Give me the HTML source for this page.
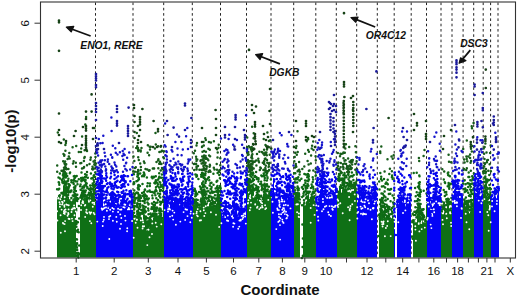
<!DOCTYPE html><html><head><meta charset="utf-8"><style>html,body{margin:0;padding:0;background:#fff;overflow:hidden}svg{display:block}text{font-family:"Liberation Sans",sans-serif}</style></head><body><svg width="520" height="295" viewBox="0 0 520 295">
<path d="M95.5 2.5V257M133 2.5V257M163.7 2.5V257M192.3 2.5V257M220.5 2.5V257M246.5 2.5V257M271 2.5V257M293.7 2.5V257M315.8 2.5V257M336.3 2.5V257M356.7 2.5V257M377.3 2.5V257M394.2 2.5V257M411.2 2.5V257M426.5 2.5V257M441 2.5V257M452 2.5V257M463.1 2.5V257M473.7 2.5V257M483.2 2.5V257M490.6 2.5V257M498 2.5V257" stroke="#222" stroke-width="1" stroke-dasharray="2.6 2.7" fill="none"/>
<path d="M57 199.3H58V257.5H57zM58 199.3H59V257.5H58zM59 199.3H60V257.5H59zM60 199.3H61V257.5H60zM61 199.3H62V257.5H61zM62 195.3H63V257.5H62zM63 185.3H64V257.5H63zM64 179.3H65V257.5H64zM65 186.3H66V257.5H65zM66 192.3H67V257.5H66zM67 198.3H68V257.5H67zM68 197.3H69V257.5H68zM69 199.3H70V257.5H69zM70 199.3H71V257.5H70zM71 199.3H72V257.5H71zM72 199.3H73V257.5H72zM73 198.3H74V257.5H73zM74 197.3H75V257.5H74zM75 197.3H76V257.5H75zM76 254.3H77V257.5H76zM77 256.3H78V257.5H77zM80 200.3H81V257.5H80zM81 197.3H82V257.5H81zM82 199.3H83V257.5H82zM83 198.3H84V257.5H83zM84 197.3H85V257.5H84zM85 197.3H86V257.5H85zM86 197.3H87V257.5H86zM87 202.3H88V257.5H87zM88 202.3H89V257.5H88zM89 199.3H90V257.5H89zM90 200.3H91V257.5H90zM91 202.3H92V257.5H91zM92 197.3H93V257.5H92zM93 192.3H94V257.5H93zM94 195.3H95V257.5H94zM95 204.3H96V257.5H95zM133 213.3H134V257.5H133zM134 215.3H135V257.5H134zM135 220.3H136V257.5H135zM136 220.3H137V257.5H136zM137 215.3H138V257.5H137zM138 206.3H139V257.5H138zM139 218.3H140V257.5H139zM140 218.3H141V257.5H140zM141 218.3H142V257.5H141zM142 220.3H143V257.5H142zM143 214.3H144V257.5H143zM144 214.3H145V257.5H144zM145 219.3H146V257.5H145zM146 230.3H147V257.5H146zM147 226.3H148V257.5H147zM148 224.3H149V257.5H148zM149 227.3H150V257.5H149zM150 220.3H151V257.5H150zM151 220.3H152V257.5H151zM152 220.3H153V257.5H152zM153 217.3H154V257.5H153zM154 212.3H155V257.5H154zM155 212.3H156V257.5H155zM156 214.3H157V257.5H156zM157 215.3H158V257.5H157zM158 215.3H159V257.5H158zM159 214.3H160V257.5H159zM160 212.3H161V257.5H160zM161 216.3H162V257.5H161zM162 219.3H163V257.5H162zM163 205.3H164V257.5H163zM193 204.3H194V257.5H193zM194 204.3H195V257.5H194zM195 203.3H196V257.5H195zM196 200.3H197V257.5H196zM197 205.3H198V257.5H197zM198 206.3H199V257.5H198zM199 206.3H200V257.5H199zM200 206.3H201V257.5H200zM201 202.3H202V257.5H201zM202 196.3H203V257.5H202zM203 195.3H204V257.5H203zM204 197.3H205V257.5H204zM205 200.3H206V257.5H205zM206 205.3H207V257.5H206zM207 206.3H208V257.5H207zM208 206.3H209V257.5H208zM209 203.3H210V257.5H209zM210 202.3H211V257.5H210zM211 205.3H212V257.5H211zM212 205.3H213V257.5H212zM213 204.3H214V257.5H213zM214 207.3H215V257.5H214zM215 207.3H216V257.5H215zM216 203.3H217V257.5H216zM217 198.3H218V257.5H217zM218 201.3H219V257.5H218zM219 204.3H220V257.5H219zM220 208.3H221V257.5H220zM247 191.3H248V257.5H247zM248 193.3H249V257.5H248zM249 192.3H250V257.5H249zM250 196.3H251V257.5H250zM251 192.3H252V257.5H251zM252 186.3H253V257.5H252zM253 191.3H254V257.5H253zM254 196.3H255V257.5H254zM255 196.3H256V257.5H255zM256 196.3H257V257.5H256zM257 200.3H258V257.5H257zM258 196.3H259V257.5H258zM259 201.3H260V257.5H259zM260 204.3H261V257.5H260zM261 200.3H262V257.5H261zM262 202.3H263V257.5H262zM263 193.3H264V257.5H263zM264 190.3H265V257.5H264zM265 192.3H266V257.5H265zM266 193.3H267V257.5H266zM267 194.3H268V257.5H267zM268 194.3H269V257.5H268zM269 197.3H270V257.5H269zM270 197.3H271V257.5H270zM294 204.3H295V257.5H294zM295 202.3H296V257.5H295zM296 202.3H297V257.5H296zM297 199.3H298V257.5H297zM298 200.3H299V257.5H298zM299 204.3H300V257.5H299zM303 203.3H304V257.5H303zM304 205.3H305V257.5H304zM305 205.3H306V257.5H305zM306 201.3H307V257.5H306zM307 195.3H308V257.5H307zM308 194.3H309V257.5H308zM309 202.3H310V257.5H309zM310 205.3H311V257.5H310zM311 203.3H312V257.5H311zM312 201.3H313V257.5H312zM313 202.3H314V257.5H313zM314 205.3H315V257.5H314zM315 208.3H316V257.5H315zM337 194.3H338V257.5H337zM338 192.3H339V257.5H338zM339 187.3H340V257.5H339zM340 187.3H341V257.5H340zM341 194.3H342V257.5H341zM342 189.3H343V257.5H342zM343 186.3H344V257.5H343zM344 188.3H345V257.5H344zM345 192.3H346V257.5H345zM346 192.3H347V257.5H346zM347 187.3H348V257.5H347zM348 184.3H349V257.5H348zM349 187.3H350V257.5H349zM350 192.3H351V257.5H350zM351 191.3H352V257.5H351zM352 190.3H353V257.5H352zM353 189.3H354V257.5H353zM354 188.3H355V257.5H354zM355 188.3H356V257.5H355zM356 192.3H357V257.5H356zM379 219.3H380V257.5H379zM380 212.3H381V257.5H380zM381 205.3H382V257.5H381zM382 211.3H383V257.5H382zM383 218.3H384V257.5H383zM384 216.3H385V257.5H384zM385 217.3H386V257.5H385zM386 217.3H387V257.5H386zM387 215.3H388V257.5H387zM388 217.3H389V257.5H388zM389 219.3H390V257.5H389zM390 219.3H391V257.5H390zM391 218.3H392V257.5H391zM392 215.3H393V257.5H392zM393 217.3H394V257.5H393zM413 222.3H414V257.5H413zM414 222.3H415V257.5H414zM415 222.3H416V257.5H415zM416 222.3H417V257.5H416zM417 213.3H418V257.5H417zM418 208.3H419V257.5H418zM419 209.3H420V257.5H419zM420 215.3H421V257.5H420zM421 222.3H422V257.5H421zM422 221.3H423V257.5H422zM423 222.3H424V257.5H423zM424 222.3H425V257.5H424zM425 222.3H426V257.5H425zM426 202.3H427V257.5H426zM441 213.3H442V257.5H441zM442 214.3H443V257.5H442zM443 214.3H444V257.5H443zM444 212.3H445V257.5H444zM445 214.3H446V257.5H445zM446 211.3H447V257.5H446zM447 205.3H448V257.5H447zM448 204.3H449V257.5H448zM449 208.3H450V257.5H449zM450 213.3H451V257.5H450zM451 214.3H452V257.5H451zM463 208.3H464V257.5H463zM464 210.3H465V257.5H464zM465 209.3H466V257.5H465zM466 210.3H467V257.5H466zM467 210.3H468V257.5H467zM468 211.3H469V257.5H468zM469 213.3H470V257.5H469zM470 211.3H471V257.5H470zM471 206.3H472V257.5H471zM472 207.3H473V257.5H472zM473 192.3H474V257.5H473zM483 194.3H484V257.5H483zM484 198.3H485V257.5H484zM485 193.3H486V257.5H485zM486 195.3H487V257.5H486zM487 200.3H488V257.5H487zM488 204.3H489V257.5H488zM489 203.3H490V257.5H489zM490 204.3H491V257.5H490z" fill="#0f7016"/>
<path d="M57.1 189.3h0m1.4 -11.8h0m-0.1 12h0m0 8.5h0m0.3 -15.8h0m0.3 0.6h0m0.3 2h0m-0.1 3.9h0m0.1 7.2h0m-0.2 0.2h0m0.3 0.5h0m0.5 -23.1h0m0.1 5.1h0m-0.2 16.6h0m-0.2 3.2h0m1.8 -5.3h0m0.7 -13.4h0m0.2 0.2h0m-0.3 0.7h0m0.4 1.9h0m-0.3 10.9h0m-0.3 5.5h0m1.3 -24.7h0m-0.2 1.1h0m0.5 3.1h0m0 4.8h0m-0.7 9.5h0m0.2 1.1h0m1.2 -20.6h0m-0.3 0h0m-0.3 3.9h0m0.3 4.7h0m0 0.2h0m0.1 0.9h0m0.9 -10.8h0m0.2 0.8h0m0.2 2.2h0m-0.5 0.9h0m0.2 0.2h0m0 0.2h0m-0.3 0.7h0m0.5 5.7h0m1.2 -9.2h0m0.2 2.3h0m-0.7 1.2h0m0 0.3h0m0.3 4h0m-0.1 2.1h0m-0.1 0.5h0m-0.3 0.7h0m0.1 0.2h0m0 0.2h0m0.5 3h0m1 -12h0m-0.1 5.3h0m-0.5 5.3h0m0.3 3.4h0m0.2 0.1h0m0.1 1.2h0m-0.6 0.3h0m0.8 3.5h0m1 -16.4h0m-0.3 2h0m0.3 3.2h0m-0.6 4.7h0m0.5 1h0m-0.6 2.6h0m0.4 0.3h0m0.1 2.4h0m-0.5 2.6h0m1.2 -13.4h0m0.1 0.3h0m-0.4 0h0m0.5 2.1h0m-0.3 1.1h0m0 3.8h0m-0.3 0.9h0m1.6 -19.9h0m-0.3 0.7h0m0 12h0m0.7 6.8h0m0.8 -11.8h0m0.1 2.1h0m0 8.3h0m-0.6 0.1h0m0.4 0.2h0m0.2 7.1h0m2.1 -17.8h0m-0.3 2.6h0m-0.4 12.6h0m1 -19.1h0m0.2 3.1h0m-0.3 4.7h0m0.3 3.3h0m0.3 2.4h0m-0.5 2.4h0m-0.1 3.2h0m0.1 0h0m0.3 0.2h0m0.2 0.5h0m-0.5 0.1h0m0.7 -20.3h0m0.8 1h0m-0.5 1.1h0m-0.1 0h0m0.7 3.3h0m-0.2 6.5h0m-0.6 0.9h0m0 0.3h0m0.3 5h0m0.4 0h0m0.1 0.5h0m0 0h0m0.1 -8.6h0m0.4 5h0m-0.2 5.8h0m0.4 3.1h0m0.1 9.3h0m0 1.5h0m0 10.5h0m-0.1 2.2h0m0.3 0.8h0m0 2.7h0m-0.4 17.3h0m0.1 1.9h0m0.2 3.9h0m0.4 -73.9h0m0.4 5.5h0m0.4 2.7h0m-0.2 10.5h0m0 3.2h0m-0.1 3.2h0m-0.1 29.3h0m0.2 1.4h0m-0.7 7.4h0m0.4 0.3h0m0.1 3.8h0m-0.3 1.3h0m0.1 2.7h0m0.2 2.1h0m0.1 0.6h0m-0.3 2.9h0m0.4 2.5h0m0.9 -56.6h0m-0.3 23.4h0m0.1 7.6h0m0.3 23.3h0m0.1 0.3h0m-0.5 1.2h0m0.6 1.5h0m-0.1 1.3h0m0.4 -78.2h0m0.1 26.7h0m0.3 12.5h0m-0.5 13.8h0m0.4 13.3h0m0.4 8.5h0m0.6 -67.7h0m0.3 11.2h0m0.7 -19.4h0m0.1 2h0m0.2 1.2h0m-0.8 3.3h0m0 5.2h0m0.5 5.7h0m0.4 1h0m-0.5 0.1h0m0.1 0.2h0m0.4 -24.3h0m0.7 7.9h0m0.1 7.9h0m-0.2 4.3h0m-0.2 1.6h0m-0.3 0.2h0m0.3 1.2h0m0.3 0h0m-0.1 0.3h0m-0.1 2.7h0m0.7 -20.9h0m0.5 0.8h0m-0.6 8.2h0m0.1 4.4h0m0.7 1.5h0m0.1 0.9h0m-0.3 1.7h0m0.2 1.2h0m-0.8 0h0m0.6 0.2h0m-0.6 0.6h0m1.2 -17.7h0m0 0.4h0m0.6 5.5h0m-0.3 2.2h0m-0.2 2.9h0m1.2 -16.2h0m-0.1 2.7h0m0.1 4.3h0m0.1 11h0m-0.1 2.7h0m0 0.3h0m0 1.3h0m0.8 -19.9h0m-0.2 0.6h0m-0.1 2.8h0m0.5 2.7h0m-0.2 1.1h0m0.1 0.2h0m0 1.5h0m-0.2 4.9h0m0.2 5h0m0.6 -20.6h0m0.1 8.7h0m0.6 3.4h0m0 1.1h0m-0.1 7.4h0m0 2.2h0m0 2.1h0m0.6 -22.1h0m0.7 16.7h0m-0.4 7.5h0m-0.4 0h0m1.1 -12.9h0m0.1 3.7h0m0 5.1h0m-0.1 0.1h0m1.4 -12.4h0m-0.3 4.6h0m-0.1 3.1h0m0.1 2.4h0m-0.2 2.9h0m1.2 -24.9h0m0.4 5h0m-0.6 9.5h0m0.4 1h0m0 2.6h0m0.1 1.5h0m-0.3 0.1h0m0.4 8.2h0m0.4 -6.4h0m0.7 0.7h0m-0.6 1.3h0m0.1 0.9h0m-0.4 1.4h0m0.3 1.3h0m0.8 -22.6h0m0.1 5.3h0m-0.2 2h0m1 0.8h0m-0.2 2h0m-0.6 1.2h0m0 4.9h0m0.2 2.2h0m1.2 -21.2h0m-0.4 0.5h0m0.6 0.8h0m-0.6 3.5h0m0.5 1.7h0m-0.4 2.7h0m0.7 2.1h0m-0.1 3.5h0m-0.6 1.7h0m0.5 0.5h0m0.9 -19.8h0m0.1 0h0m-0.2 4.5h0m-0.2 7.8h0m0 1.3h0m-0.3 1h0m0.6 5.4h0m-0.3 1.6h0m0.5 8.9h0m0.5 -17.9h0m-0.1 9.1h0m0.1 8.2h0m37.5 -4.9h0m0 4h0m-0.1 5.8h0m0.6 -33.1h0m0 8h0m0.3 1.4h0m-0.3 0.5h0m0.4 6.4h0m-0.7 2.8h0m0 0h0m0.2 3.1h0m0.2 3.8h0m0 2.5h0m-0.2 3.3h0m0.4 0.5h0m0 1.4h0m0 1.6h0m-0.1 3.3h0m0.7 -18h0m-0.2 2.4h0m0.3 0.8h0m0.3 1.4h0m-0.6 1.9h0m0.1 1.6h0m0.4 3.4h0m0 9.6h0m1.3 -34.6h0m-0.2 11.7h0m-0.1 23.7h0m-0.3 3h0m1.5 -43.1h0m-0.2 4.5h0m-0.2 11.4h0m-0.1 5.4h0m0.4 5.4h0m0 1.3h0m-0.1 1.4h0m0.2 1.2h0m0.2 3.6h0m-0.4 1h0m0.2 1.9h0m0 0.8h0m-0.4 3.5h0m0.7 -43.8h0m0.4 1.5h0m0.1 4.5h0m0.1 5h0m0.1 1.1h0m-0.4 1.6h0m-0.1 0h0m0.4 1.3h0m-0.4 3.6h0m0.1 0.2h0m0.5 7.1h0m-0.2 0.7h0m-0.1 2.9h0m-0.1 0.3h0m-0.5 1.2h0m1.2 -31.8h0m0 4.5h0m0.2 1.4h0m-0.3 5.6h0m0.2 1.8h0m-0.3 1.9h0m0.4 0.8h0m-0.3 5.1h0m0.2 1.3h0m0.6 0.9h0m-0.9 0.2h0m0 0.6h0m0.4 0.5h0m0.4 11h0m-0.3 4.5h0m0.1 0.7h0m-0.1 1.4h0m0.2 0.1h0m1 -42.3h0m-0.3 12.6h0m0.5 9.5h0m-0.7 0h0m0.8 0.4h0m-1 0.8h0m0.1 2.2h0m0.7 2.2h0m0.2 0h0m-0.4 2.9h0m-0.1 1.7h0m0.2 1.2h0m-0.7 5.8h0m1 1.1h0m-0.3 0.7h0m-0.7 0.8h0m0.1 0.6h0m0 0.2h0m0 1.1h0m1.3 -19.1h0m0.5 11.9h0m0 3h0m-0.8 1h0m0 3.9h0m1.4 -41.6h0m0.5 7.7h0m-0.4 9.1h0m0.2 17h0m0 2.5h0m0.9 -37.3h0m-0.3 20.6h0m0.1 5h0m-0.5 4.6h0m1 0.4h0m-0.2 1.9h0m0.1 4h0m-0.4 1.5h0m-0.2 0.5h0m1 -41.4h0m0.4 1.1h0m-0.2 2.8h0m-0.1 15.8h0m-0.2 2.8h0m0.1 0.5h0m0.5 2.5h0m0.1 2.6h0m-0.1 7.9h0m-0.4 0.6h0m-0.1 0.5h0m0.4 0.4h0m-0.6 0.6h0m0.9 -35.5h0m0.5 14.5h0m-0.3 0.4h0m0 0.2h0m0.1 0.2h0m0 3.9h0m0.6 1.5h0m-0.2 2.9h0m-0.2 0.2h0m0.4 0.9h0m-0.8 1.2h0m0.1 2.1h0m0.2 7.7h0m0.4 0h0m-0.3 1.9h0m0.5 4.2h0m-0.1 2.1h0m0.5 -23.4h0m-0.2 11.5h0m0.1 4.7h0m0 4.7h0m-0.1 0.9h0m0.4 4h0m0.4 0.2h0m0 1.9h0m-0.3 3.3h0m0.3 1.2h0m-0.3 0.4h0m0.7 -50.8h0m0.3 8.7h0m0.1 5.2h0m-0.5 4.9h0m0.2 2.1h0m0.4 4.2h0m-0.1 15.5h0m-0.7 0.4h0m0.6 3.2h0m0.1 2.4h0m0 0.9h0m-0.2 1h0m-0.5 1.2h0m0.2 1.2h0m0.9 -45.2h0m0.1 16.3h0m0.6 5h0m-0.3 4h0m0.1 0.3h0m0.2 1.8h0m0.1 3.6h0m-0.3 7h0m-0.6 0.6h0m0.2 2.3h0m0 0.8h0m0 0.6h0m1.5 -34.3h0m-0.5 7.3h0m-0.2 5.4h0m0.5 14.3h0m-0.3 0.4h0m1.2 -35.1h0m-0.2 2.4h0m-0.2 4.7h0m0.8 1.1h0m-0.1 25.4h0m-0.2 1.1h0m-0.1 0.2h0m0 1.4h0m-0.5 2.6h0m0.2 0.2h0m-0.1 0.2h0m0.3 1.8h0m-0.3 1.1h0m0.3 0.9h0m1.5 -17.5h0m-0.8 4.3h0m0.1 0.8h0m0.8 2.2h0m-0.8 3.5h0m1.2 -43.1h0m-0.2 0.5h0m0.8 1h0m-0.3 13.8h0m0.1 3.4h0m-0.4 8h0m-0.1 3.8h0m0.5 7.4h0m0.3 -16.4h0m0.7 6.5h0m-0.4 3.5h0m0.5 0.8h0m-0.2 4.4h0m0 1.5h0m-0.1 0.2h0m-0.1 0.3h0m-0.1 0.4h0m0.1 0h0m0.9 -39.2h0m0.1 0.5h0m0.4 5.9h0m-0.8 9.4h0m0.4 9.6h0m-0.1 4h0m-0.2 1.7h0m0.3 2.1h0m0.4 0.5h0m-0.3 0.6h0m-0.5 2.8h0m1.6 -30.2h0m-0.5 8h0m-0.1 1.5h0m0 0.1h0m0.8 2h0m-0.5 9.9h0m-0.1 2.1h0m0.4 1.3h0m0.6 -32.2h0m0 3.9h0m-0.2 1.3h0m0.4 5.8h0m-0.2 2.4h0m0.5 8.6h0m-0.7 4.6h0m0.4 6h0m0.2 2.1h0m0.6 -28.4h0m-0.3 8.5h0m0.9 11.5h0m-0.5 4.8h0m0 1.1h0m-0.3 5.5h0m1.3 -34.3h0m0 4.6h0m-0.3 1.7h0m0.3 7.6h0m0.1 6.5h0m1.2 -26.8h0m0.1 3.5h0m-0.2 0.9h0m-0.4 0.7h0m0.4 9h0m0.2 8.5h0m0.1 12.6h0m-0.1 1.2h0m-0.6 0.8h0m0.6 2.7h0m0.2 -31.1h0m0.7 0.4h0m-0.2 7.4h0m0.1 1.3h0m0 2.7h0m0.2 3.5h0m-0.3 4.4h0m0.5 2.7h0m-0.2 0.2h0m0.2 4.1h0m-0.2 1.9h0m-0.3 0.3h0m0 2.6h0m1.1 -35.9h0m-0.5 7.1h0m0.3 0.5h0m0.3 0.3h0m0.1 0.1h0m-0.6 1.2h0m0.6 3.4h0m-0.5 0.2h0m0.2 12.7h0m-0.3 6.4h0m0 0h0m0.5 4.4h0m-0.2 1.5h0m0.1 0.1h0m0.8 -41.1h0m0.2 27.3h0m-0.4 9.5h0m0.8 7.1h0m0.8 -40.6h0m-0.2 2.3h0m0.3 1h0m-0.1 3.4h0m0.1 2.5h0m-0.3 1h0m-0.1 2.9h0m0.3 5.9h0m-0.1 2.8h0m0.2 1h0m-0.9 17.5h0m1.5 -26.1h0m-0.1 8h0m0.1 1.9h0m-0.1 0.6h0m29.6 -12.6h0m-0.2 9.1h0m-0.1 4.6h0m0.4 -12.9h0m0.7 9.6h0m-0.8 1.6h0m0.9 0.4h0m0.1 1.1h0m0.9 -28.8h0m-0.7 14.1h0m0.2 0.6h0m0.5 4.7h0m-0.2 2.2h0m0 0.1h0m-0.4 4.7h0m0.2 1.4h0m0.3 0h0m-0.3 0.7h0m1.4 -26.3h0m-0.7 14.5h0m0 0.4h0m0 1.6h0m0.7 0.8h0m-0.5 1h0m0 0.6h0m0.3 3.8h0m-0.6 0.2h0m1.1 -24.7h0m0.3 1h0m-0.2 17.5h0m0.5 0.8h0m0.2 8.9h0m-0.3 1.7h0m1.2 -25.9h0m-0.7 20.9h0m0.7 4.9h0m0.7 -12.9h0m0.1 12.9h0m0.8 -18.4h0m-0.3 19.1h0m1.4 -30.8h0m0.1 2h0m0.1 11.6h0m-0.5 0.8h0m0.6 2.7h0m0 1.3h0m-0.1 5.3h0m0.1 0.4h0m-0.6 1.2h0m0.6 1.4h0m-0.7 0.2h0m-0.1 2.6h0m1.5 -31.4h0m0 0.2h0m0 1.1h0m0 2.5h0m0.2 6.3h0m-0.1 0.6h0m0 0.8h0m-0.3 5.9h0m0.5 0.9h0m-0.1 0.3h0m-0.8 0.2h0m0.7 2.4h0m-0.7 7.9h0m1.4 -28.7h0m0.3 1.1h0m-0.1 0.8h0m0.3 1.2h0m0 0.9h0m-0.1 4.4h0m-0.2 4.1h0m0.1 0.6h0m0 0.7h0m-0.5 0.1h0m0.6 4.5h0m-0.4 1.8h0m-0.4 1.5h0m0.1 0.4h0m0.3 0.3h0m-0.1 0.2h0m-0.1 0.1h0m1.7 -20.9h0m-0.7 3h0m0 6.8h0m-0.2 0.8h0m0.7 0.4h0m0.3 0.5h0m-0.2 3.1h0m-0.5 0.1h0m0.5 0.2h0m-0.4 2.1h0m-0.1 0.1h0m-0.1 0.4h0m0.3 1h0m0 1h0m-0.1 0.3h0m1.3 -21.4h0m-0.4 1.2h0m0.4 0.6h0m-0.2 3.2h0m0.1 0.9h0m0.4 3.8h0m-0.3 3.5h0m-0.3 4.6h0m0.4 3.4h0m-0.4 0h0m0.4 0.5h0m0.1 2h0m-0.4 0.8h0m0.5 -24.5h0m0.8 6.3h0m-0.4 1.2h0m-0.3 10.9h0m0.8 2.5h0m-0.2 3.8h0m-0.2 0.1h0m0.2 0.6h0m-0.1 5.3h0m0.8 -24.6h0m0.2 8.8h0m-0.1 3.2h0m-0.3 12h0m1.6 -25.7h0m0.2 13.4h0m-0.6 6.7h0m-0.1 0.2h0m-0.2 3.2h0m1.3 -24h0m0.4 2.9h0m-0.8 10.8h0m0.3 5h0m0.4 0.1h0m-0.5 1.6h0m0.1 2.3h0m1.6 -16.7h0m-0.7 2.3h0m0.5 7.5h0m-0.4 7.8h0m1.5 -12.1h0m-0.7 0.3h0m-0.1 4.1h0m0.2 3.2h0m0.5 6.6h0m0.3 -20.2h0m0.1 4.1h0m0.2 4.4h0m-0.2 1h0m0.8 5.3h0m-0.6 0.7h0m0.1 0.6h0m0.3 1.2h0m0 0.1h0m0.1 3h0m-0.3 1.2h0m1.4 -30.7h0m0.1 11h0m-0.7 8h0m0.5 4.7h0m-0.3 4h0m-0.3 1h0m0.5 1.2h0m1 -11.7h0m-0.3 0.2h0m1.1 3.1h0m0 3.4h0m0.1 3.5h0m-0.2 1.1h0m0 2.9h0m0.5 0.4h0m-0.3 0.2h0m0.5 -18.1h0m0.5 3h0m0.4 8.8h0m0.8 -19.6h0m-0.5 0.4h0m-0.2 0.5h0m0.5 5.3h0m-0.4 4.1h0m0.5 1h0m0.3 5h0m-0.6 1.3h0m0.7 -25.3h0m-0.1 12.9h0m1 2.1h0m-0.8 1h0m0.2 1h0m0 0.3h0m0.4 0.1h0m-0.5 1.2h0m-0.1 1h0m0.2 0.4h0m-0.1 1.4h0m-0.3 0.5h0m0.8 6h0m0.5 -28.9h0m0.5 3h0m0.1 16.2h0m0 3.8h0m-0.2 2h0m0.1 1.2h0m-0.3 1.3h0m-0.1 1.3h0m0.4 0.3h0m-0.2 1.2h0m0 1.6h0m0.8 -25.8h0m0.2 7.7h0m0.1 1.2h0m0.1 4.6h0m0.1 0.4h0m-0.5 6h0m0.3 5.1h0m0.1 4.1h0m0.4 -19h0m-0.2 2.1h0m0.4 11h0m0 2.4h0m-0.1 2.3h0m26.4 -27.9h0m-0.2 2.9h0m0.4 0h0m-0.2 1.2h0m0 7h0m-0.1 1.5h0m0.4 -15.8h0m0.1 5.8h0m0 0.9h0m0.1 0.2h0m0.2 2.6h0m-0.4 0.6h0m0.4 0.3h0m-0.1 0.3h0m0 1.3h0m0.4 1.6h0m-0.6 0.1h0m0.1 2.1h0m1.5 -11.7h0m-0.5 0.8h0m0.3 0.5h0m0.3 2.4h0m-0.3 0.6h0m-0.5 0.6h0m0.9 1.6h0m-0.6 2.2h0m0.4 2.1h0m1 -15.5h0m0.1 1.3h0m-0.2 3.7h0m-0.6 0.8h0m0.5 2.4h0m-0.3 3.3h0m-0.1 1.6h0m0.8 0.5h0m-0.7 2.4h0m1.4 -17.7h0m0.4 4.3h0m-0.2 4.4h0m-0.3 0.9h0m0.4 3.3h0m-0.2 6h0m-0.3 1.7h0m1.5 -19.8h0m-0.9 0.6h0m0.3 7.4h0m0.6 4h0m-0.6 0.2h0m0 0.8h0m-0.3 3.3h0m1.3 -17.2h0m0.5 0.9h0m-0.6 1.5h0m0.4 3.7h0m0 0.2h0m-0.2 1.3h0m-0.2 1.1h0m0.3 5.9h0m0.3 1.5h0m-0.2 1.3h0m0.2 0.2h0m0.6 -10.3h0m-0.2 4.3h0m-0.1 5.7h0m0.1 0.7h0m1.4 -14.7h0m-0.5 0.8h0m0.1 13.3h0m1.8 -12.8h0m-0.6 8.4h0m-0.1 2.6h0m0.3 6.8h0m0.6 -15.9h0m0.5 7.6h0m-0.4 1.6h0m-0.1 1.5h0m0.2 2.8h0m0.3 3.4h0m0.1 1.9h0m-0.2 0.5h0m1.4 -20.2h0m0 9h0m-0.4 1.1h0m0 2.5h0m0.1 3.7h0m0.3 -15.2h0m0 2.3h0m0.3 9.2h0m0 0.7h0m0.4 4.9h0m-0.2 1.3h0m0.2 2.8h0m1 -16.6h0m-0.5 11.8h0m0.1 3.7h0m0.5 0.5h0m-0.7 0h0m1.7 -24.4h0m-0.2 6.2h0m0.2 2.2h0m-0.1 11.9h0m-0.5 0.6h0m0.3 0.2h0m-0.3 4.2h0m0.1 1.6h0m0.2 0.9h0m1 -27.1h0m-0.3 10h0m0.4 2.1h0m-0.5 1.7h0m1.9 -13.9h0m-0.3 9.1h0m0 3.7h0m-0.3 8.8h0m0 0.5h0m0.1 0.8h0m-0.2 2.8h0m0.9 -28.3h0m0.5 11.6h0m-0.2 0.5h0m0.2 3.8h0m-0.4 2.3h0m1.7 -19.5h0m-0.9 3.4h0m0.2 2.3h0m0 0.1h0m-0.2 2.3h0m0 3.5h0m0.3 1.2h0m0.6 1.1h0m-1 0.5h0m0.6 1.4h0m-0.5 1h0m0.7 1.8h0m1 -5.6h0m-0.4 6.1h0m-0.1 0.2h0m1.3 -18.4h0m-0.6 1.7h0m0.1 0.5h0m0.3 5.2h0m0.1 3.8h0m0.3 2h0m-0.6 3.7h0m0.6 0.4h0m-0.5 0.6h0m0.1 0.3h0m0.6 -14.1h0m0 1h0m0.2 11.3h0m1.2 -2.7h0m0.3 4.9h0m0.1 1.7h0m0.1 2.9h0m0.1 -3.6h0m0.6 1.2h0m-0.1 0.9h0m-0.5 0.1h0m0.9 1.1h0m-0.6 0.5h0m1.1 -17.1h0m-0.2 11h0m-0.2 1.4h0m0.4 4.5h0m23.2 -23.1h0m0.2 20.4h0m-0.3 6.1h0m0.5 1h0m-0.5 0.8h0m0.4 0.3h0m-0.1 0h0m1 -28.5h0m0.1 5.5h0m-0.1 0.1h0m-0.1 0.6h0m-0.5 2.6h0m0.5 0.5h0m-0.5 5h0m0.3 2.6h0m0 2.5h0m-0.2 1h0m0.7 0.1h0m-0.5 3.7h0m-0.2 0.6h0m-0.1 0.1h0m0.8 1.2h0m-0.5 0.2h0m0.4 0.6h0m0.1 0.8h0m-0.5 2.5h0m1.3 -25.2h0m-0.1 1h0m-0.6 15h0m0.2 1.2h0m0.1 2.6h0m-0.3 0.4h0m0.1 2.2h0m0.6 1h0m0.1 0.2h0m0.4 -22.7h0m0.4 3.2h0m0.1 6.2h0m-0.7 4.6h0m0.5 3.3h0m-0.4 1.8h0m0.2 2.6h0m1.4 -23.7h0m-0.8 1.9h0m0.1 7.5h0m0.3 3.9h0m-0.4 2.8h0m0.2 1.2h0m0.3 1.7h0m-0.2 1.1h0m0.6 1.8h0m0.3 -10.5h0m0 1.5h0m0.2 3.2h0m0.2 1.2h0m0.2 2h0m-0.7 1.5h0m0.4 5.2h0m0 0.3h0m0.6 -28.9h0m-0.1 5.9h0m0.3 0.1h0m0 18.9h0m-0.1 3h0m-0.1 1h0m1.8 -24.8h0m0.9 8.3h0m-0.4 0.5h0m0.3 9.6h0m-0.1 8.2h0m0.3 19.3h0m-0.5 33.3h0m1.2 -68.8h0m0.4 4.3h0m0 2.4h0m-0.6 42.7h0m-0.3 8.5h0m0.3 8.7h0m1.5 -81.6h0m-0.5 11h0m0.1 6.9h0m0.1 0.1h0m-0.1 8.2h0m0.3 2.4h0m0.1 0.8h0m0.7 -22.9h0m0.3 2.3h0m0.5 -8.5h0m0 11.6h0m0.2 0.1h0m-0.6 0.8h0m0.4 1.9h0m-0.2 2.2h0m0.2 3.5h0m0.2 3.7h0m-0.1 0.3h0m1.2 -23.8h0m0 2.6h0m-0.1 3.5h0m0.4 5.1h0m-0.3 1.2h0m-0.5 0.8h0m0.6 0.1h0m0.1 3.8h0m-0.7 1h0m0.7 0.3h0m-0.6 4h0m0.1 0.3h0m1.1 -23.4h0m0.4 3.6h0m-0.6 3h0m0.4 0.6h0m-0.5 3h0m0.7 1.6h0m-0.2 5.9h0m0.4 -16.8h0m0.2 1.4h0m0.2 3.1h0m-0.4 0.9h0m0 12.9h0m1.2 -1.5h0m0 8.4h0m0 0.9h0m0.3 3.5h0m0.8 -16.4h0m0 9.7h0m0.1 0.6h0m-0.5 1.3h0m0.1 0.3h0m0.7 1.4h0m0.1 0.9h0m-0.2 0.3h0m0 0.1h0m0.4 -18.2h0m0.5 2.2h0m-0.5 7.9h0m0.4 1.9h0m0.5 1.8h0m-0.1 2.2h0m-0.5 2h0m0.8 -25.3h0m0.5 2.3h0m-0.5 2.6h0m0.1 4.6h0m0.3 0.1h0m0.3 1.9h0m-0.1 2.7h0m-0.7 0.8h0m0.9 0.7h0m-0.6 0.7h0m0 6.1h0m-0.1 0.9h0m0.6 1.3h0m0.5 -8.9h0m0.6 3.2h0m-0.3 0.3h0m0.1 0.5h0m-0.5 0.7h0m0.1 0.7h0m-0.4 2.5h0m1.3 -9.3h0m0.3 10.5h0m-0.6 1.2h0m0.2 0.6h0m1.2 -28.4h0m-0.3 0.3h0m0.1 14.5h0m0.2 17.2h0m21.2 -16.8h0m0.7 -11.9h0m0.4 1.5h0m-0.4 12h0m1.2 -18.4h0m-0.5 2.6h0m0.8 2h0m-0.7 0.9h0m0.7 1.5h0m-0.4 11.1h0m0.8 -16.5h0m-0.2 2.6h0m0.5 8.8h0m1.1 -14.6h0m-0.3 1h0m0.3 6h0m-0.3 0.3h0m0.3 0.2h0m-0.3 5.5h0m0.2 2.5h0m0.8 -15.1h0m0.3 5.9h0m-0.4 6.9h0m0.1 8.2h0m1.5 -18.4h0m-0.6 4.5h0m0 2.2h0m-0.2 0.9h0m0.3 2.4h0m-0.1 2.7h0m1.8 -15h0m-0.3 2.4h0m0.3 2.5h0m-0.5 1.2h0m0.3 0.1h0m-0.5 1h0m0.4 0.6h0m-0.7 0.4h0m0.1 0.3h0m0.7 2.3h0m-0.8 0.2h0m0.7 1h0m-0.3 0.4h0m0.6 -11.8h0m0.5 8.8h0m-0.5 4.1h0m0.7 5.5h0m0.7 -16.2h0m0.6 1.4h0m-0.5 9.2h0m-0.2 0.7h0m0 2.2h0m0 1.7h0m1.2 -7.9h0m0.3 2.5h0m-0.3 6.3h0m1.4 -18.1h0m-0.3 0.7h0m0.4 0.4h0m0 4.4h0m-0.8 4.1h0m0.1 1.1h0m0.9 -12.5h0m0.8 5.2h0m-0.1 3.8h0m0 5h0m0.1 -4.2h0m1 2h0m-0.9 0h0m0.6 0.8h0m0 4.8h0m1 -13.3h0m0.1 5.6h0m-0.8 1.5h0m0.9 0.1h0m-0.2 0.8h0m-0.4 0.2h0m0.5 0.5h0m-0.5 0.7h0m0.5 1.2h0m-0.2 0.3h0m0 2.3h0m-0.2 1.7h0m1 -18.6h0m0.5 4.1h0m-0.1 10.1h0m-0.1 2.6h0m-0.3 1.5h0m1.5 -10.8h0m-0.7 5.4h0m0.7 3.5h0m-0.5 0.9h0m0.8 -14.7h0m0.5 8h0m0.3 1.1h0m-0.5 2h0m-0.3 0.5h0m0.5 0.1h0m1.2 -3.1h0m-0.8 0.4h0m0.4 1.7h0m-0.2 1.5h0m0.4 0.5h0m0.5 -5.2h0m-0.1 2.4h0m0.5 6.7h0m0.4 -19.5h0m0.2 1.7h0m0.2 0.8h0m-0.1 5.9h0m21.5 55.4h0m0.9 -54.4h0m-0.1 33.6h0m1.2 -42.2h0m-0.8 16.6h0m0.6 10.3h0m0 4.5h0m0.3 4.5h0m0 1.3h0m-0.7 4h0m-0.2 2.9h0m0.2 1.9h0m1.5 -42.2h0m-0.2 2.4h0m0.3 21.8h0m-0.3 1.3h0m0.1 0.4h0m-0.1 3.8h0m-0.1 5.3h0m1.1 -31.3h0m-0.1 6h0m-0.4 7.1h0m0.5 4.6h0m-0.3 1.1h0m0.5 6.3h0m-0.2 4.8h0m0.8 -16.5h0m0.2 4.4h0m-0.4 2.4h0m0.1 1.5h0m0.2 0.2h0m0 0.2h0m-0.1 0.2h0m-0.1 3.2h0m-0.2 1.3h0m0.5 7.5h0m0.2 1.1h0m0.8 -36.7h0m-0.5 7.2h0m0.3 9.1h0m0.4 0.9h0m0.3 0h0m0 7.8h0m-0.6 2h0m-0.3 5.8h0m0.4 0.1h0m0.4 1.7h0m-0.4 2.3h0m-0.2 1.4h0m1.3 -29.9h0m-0.5 4.1h0m0.9 5.7h0m-0.3 3.2h0m-0.7 6.5h0m0.4 1h0m0.3 2.6h0m-0.3 0h0m0.5 0.9h0m0 3.1h0m0 0.1h0m-0.8 0.2h0m1.7 -32.5h0m-0.8 1.3h0m0.2 16.7h0m0.3 9.5h0m-0.2 1.9h0m-0.3 0.3h0m1.6 -28.5h0m-0.5 21.2h0m0.6 1.2h0m-0.4 0.2h0m0.1 0.3h0m0.6 0.2h0m-0.8 5h0m0.1 4.3h0m-0.1 0.9h0m1 -37.2h0m0.1 4.5h0m0.1 5.1h0m-0.2 9.8h0m0.2 10h0m-0.1 0.5h0m0.5 1.6h0m-0.1 5.7h0m1.1 -42.9h0m0.1 15.8h0m-0.6 4.2h0m-0.2 12.7h0m0 7.1h0m0.4 1h0m0.1 0.5h0m-0.2 1h0m0.5 2.5h0m1 -29.2h0m-0.2 4.2h0m-0.7 13.3h0m0 1.8h0m0.5 9.5h0m1.1 -29.4h0m-0.5 12.3h0m0.5 8.2h0m0 4.4h0m1 -38.3h0m-0.2 1.7h0m0.2 30.6h0m0 3.6h0m-0.3 2.4h0m0.7 -36.3h0m0.2 1.3h0m-0.1 16.6h0m0.5 7.1h0m0.4 1.2h0m-0.9 9.2h0m0 0.3h0m1.4 -15.4h0m-0.1 5.2h0m-0.4 3.3h0m0.3 10.3h0m18.5 5.6h0m-0.2 14.1h0m0.6 -22.7h0m0.5 6.6h0m0 1.1h0m-0.1 0.2h0m0.2 0h0m0 0.1h0m-0.6 17.1h0m1 -65.9h0m0.7 38.8h0m-0.8 3.3h0m0.8 5.9h0m0.7 -32.8h0m-0.2 13.2h0m0.5 6h0m-0.5 13.1h0m0.8 -24.1h0m0 16.2h0m0.5 0.6h0m-0.6 2h0m0.8 2.3h0m0.3 -44.6h0m0 19.4h0m0.3 8.9h0m0.5 2.7h0m-0.9 7.2h0m0.3 6.3h0m1 -30.6h0m0 8.3h0m0 4.1h0m0.3 1.1h0m-0.3 0.1h0m0.3 4.1h0m0 0.8h0m-0.5 2.2h0m0.5 0.1h0m-0.4 2h0m0.2 2.5h0m1.3 -36.6h0m0.2 0.9h0m-0.8 6.7h0m0.7 1.5h0m-0.5 1.6h0m0.4 1h0m-0.4 0.8h0m0.6 1.2h0m-0.1 3.6h0m-0.2 2.4h0m0 1.2h0m-0.4 7.2h0m-0.1 0.3h0m0.5 0.2h0m-0.7 3.1h0m0.9 0.6h0m0.4 -25.4h0m0.7 7.7h0m-0.5 4.2h0m0.1 2.3h0m-0.5 3.8h0m0.1 6h0m0.2 0.7h0m0 0.7h0m-0.2 0.2h0m0.1 0.4h0m0.1 0.3h0m0.5 5.1h0m0.5 -21.9h0m-0.3 12.3h0m0.2 6.8h0m0 1h0m0.6 6.3h0m-0.1 0.2h0m0.4 -9h0m-0.1 1h0m0.7 2.5h0m-0.5 2.2h0m0.5 1.2h0m-0.8 2.6h0m0.6 0.4h0m0 0.3h0m0.5 -10.1h0m0.2 0.4h0m0 4.5h0m-0.3 0.1h0m0.4 2.1h0m0.2 1.4h0m0.2 1h0m-0.5 0.4h0m0.9 -28.6h0m-0.1 18.4h0m0.2 6.3h0m-0.1 0.3h0m0.6 1.3h0m0.9 3.9h0m0.5 -1.2h0m0 0.1h0m0.8 -26.5h0m14.7 7.9h0m0.2 5.5h0m-0.1 2.9h0m0.1 0.8h0m0.2 -8.9h0m-0.1 4.8h0m0.8 2.8h0m-0.5 2.2h0m1.7 -5.7h0m-0.6 1.1h0m0.9 -27.3h0m-0.1 10.6h0m0.1 12.3h0m0.2 0.6h0m-0.5 1.9h0m0.7 2.3h0m-0.2 0.6h0m0.5 1.2h0m0.3 -26.8h0m0.3 0.7h0m-0.2 9.4h0m-0.1 3.7h0m0.4 9.3h0m-0.1 4.4h0m0.3 0.4h0m-0.4 0.3h0m1.2 -18.4h0m0.3 2.5h0m-0.2 4.7h0m0.2 2.4h0m-0.7 7.7h0m0.6 0.1h0m-0.6 2h0m-0.1 0.8h0m0.2 0.9h0m0.9 -13.4h0m0.3 2.8h0m0 2.3h0m-0.1 0.1h0m1.3 -32.3h0m-0.5 0.7h0m0.3 1.7h0m-0.4 11.3h0m0.2 12.4h0m0 1.6h0m0.2 1.2h0m-0.5 0h0m0.5 0.6h0m0.6 -26.6h0m-0.1 7.4h0m0.1 1.5h0m0.7 0.6h0m-0.1 2.2h0m-0.1 1.6h0m-0.4 10.4h0m0 3h0m0.6 0.1h0m-0.6 0.7h0m0.5 0.6h0m-0.1 0.7h0m0.8 -28h0m-0.1 25.4h0m-0.1 2.4h0m0.5 6.5h0m0.5 -26.9h0m0.6 14.4h0m-0.3 10.3h0m0.4 3.6h0m-0.2 1.2h0m0.1 0.5h0m0.4 -11.7h0m0.2 1.8h0m-0.3 7.4h0m11.4 -27.7h0m0 22.2h0m0.4 2h0m0.7 -27.1h0m-0.4 8.5h0m0.6 10.3h0m0.1 3.2h0m-0.9 1.7h0m0.6 1h0m-0.3 1.8h0m0.3 0h0m-0.1 1.2h0m0.2 1.2h0m0.4 -29.3h0m0.6 8.2h0m-0.2 1.1h0m0.1 1.9h0m-0.5 0.6h0m0.3 9.5h0m0.5 7h0m0 -24.3h0m0.4 7.1h0m0 6.3h0m-0.1 6.5h0m0.2 3.3h0m1.2 -17.1h0m-0.5 10.6h0m0.4 1.3h0m-0.3 1.7h0m0.6 0.1h0m-0.2 0.9h0m0 0.3h0m-0.6 1.9h0m0.7 0.2h0m-0.5 2.3h0m1.6 -32.6h0m-0.8 6.3h0m0.6 3.8h0m0 5.7h0m0.2 7.9h0m-0.1 1.9h0m-0.5 1.2h0m0.1 1.1h0m-0.2 1.3h0m0.8 1.2h0m-0.4 1.2h0m-0.5 0.8h0m0 0h0m1.1 -37h0m0.6 4.5h0m-0.5 6.6h0m0.7 12.1h0m-0.5 0.1h0m-0.5 9.5h0m1 5h0m0.8 -30h0m-0.4 4.9h0m0.3 4.3h0m-0.1 5.4h0m-0.4 5.9h0m0.4 0.3h0m-0.6 0.4h0m0.6 5.7h0m0.1 3h0m0.6 -26.1h0m0 2.7h0m0.3 4.5h0m0.3 1h0m-0.7 4.4h0m0.4 3.5h0m0.3 0h0m-0.9 0.8h0m0.4 0.7h0m0.5 1.8h0m-0.1 1.3h0m-0.5 2.9h0m1.4 -31.4h0m-0.5 4.3h0m0.5 3.1h0m-0.5 6.6h0m0.3 3.9h0m-0.3 8.9h0m0 1.7h0m0.7 1.6h0m0.4 -28.9h0m-0.2 1.7h0m0.3 21.2h0m-0.1 3.9h0m0.1 1.7h0m1 -32.4h0m-0.1 11.5h0m0.1 3.2h0m-0.4 0.2h0m0.4 2.1h0m9.5 -17.5h0m1.1 4.4h0m-0.6 4.4h0m0.5 5h0m-0.3 4.4h0m-0.5 0.3h0m0.4 0.7h0m0.5 2.1h0m-0.4 2h0m0.1 0.4h0m0.2 0.2h0m0.9 -20.4h0m0 1.2h0m-0.2 0.5h0m-0.1 0h0m0.2 3.6h0m-0.7 4.2h0m0.3 1.7h0m0.6 1.1h0m-0.7 2h0m0.8 -17.6h0m0.3 6.1h0m0.4 1.6h0m-0.6 3.5h0m0.3 0.5h0m0.1 1.8h0m0.3 5.9h0m1 -13h0m0.1 1.4h0m0.1 0.3h0m-0.8 1.2h0m0 4.9h0m-0.2 3h0m0.6 2.1h0m0.2 1.3h0m0.2 0.9h0m0.9 -6.2h0m-0.1 0.4h0m-0.7 1h0m0.2 4.1h0m-0.2 3.5h0m0.4 1.1h0m-0.3 0.8h0m0.5 3.3h0m1.1 -27.7h0m-0.1 5.1h0m0.2 5h0m-0.5 5.5h0m-0.3 5.6h0m0.1 0.4h0m0.5 1.4h0m-0.2 4.2h0m0.2 0.4h0m0.8 -14.6h0m0.4 4.6h0m-0.4 2h0m-0.1 1.6h0m-0.4 0.7h0m1 5.2h0m-0.8 0.4h0m1.2 -13.5h0m-0.3 8.7h0m0.3 5.5h0" stroke="#0e6915" stroke-width="2.5" stroke-linecap="round" fill="none"/>
<path d="M57.2 165.5h0m0 6.2h0m0.6 -39.2h0m3.7 38.3h0m2 -16.7h0m-0.3 7.1h0m-0.2 9.2h0m0 1.2h0m0.8 -32h0m0.6 15.5h0m-0.2 0.6h0m0.3 7.8h0m-0.5 4.2h0m0.2 1.5h0m-0.2 2.2h0m1.4 -26.3h0m0 5.7h0m-0.3 10.6h0m-0.4 1.1h0m0.1 1.4h0m0.6 2h0m-0.1 1.9h0m-0.2 1.3h0m0.8 -26.2h0m0.3 21.4h0m-0.2 3.6h0m0.4 1.3h0m1.2 -10.2h0m0.8 9.9h0m0.9 -16h0m-0.5 3.7h0m0.9 2h0m2.9 -11.4h0m0.4 16.3h0m0.6 -2.2h0m2.6 -15.4h0m-0.4 16.8h0m0.2 4h0m2.8 -14.6h0m1.5 11.2h0m0.9 -14.9h0m-0.2 3.7h0m0.3 11h0m0.8 -26.7h0m-0.1 32h0m2.3 -10.4h0m-0.4 3.1h0m0.2 5.8h0m-0.5 1h0m1.7 -43.5h0m-0.7 25.8h0m0.1 6.7h0m1.4 -39.8h0m-0.3 27.5h0m0.7 4.8h0m0.5 1.7h0m0 14.2h0m0 6.6h0m2.5 -7.8h0m0.9 -4.4h0m0.4 -2.3h0m1.7 9.3h0m-0.3 2.2h0m0.6 0.6h0m1.6 -41.6h0m-0.9 33.5h0m0.8 3.2h0m0.1 3.9h0m0.9 -15.1h0m0.2 3.6h0m-0.6 3.6h0m-0.1 2.8h0m0.7 0.9h0m-0.2 1.3h0m0.6 -2.1h0m37.3 7.8h0m0.3 -14.8h0m0.8 4.6h0m0.7 6.9h0m-0.1 3.8h0m1.3 -23.8h0m-0.4 19.3h0m1 -34.4h0m0.4 13.3h0m0.1 25.7h0m0.7 -24h0m0.1 1.9h0m0.4 0.3h0m-0.3 0.8h0m0 6.3h0m-0.1 12.8h0m0.3 1.1h0m0.4 -11h0m1.4 3.4h0m1.3 -15.5h0m-0.8 2.6h0m0 0.9h0m0.2 15.6h0m-0.1 3h0m3.1 -8.7h0m0.6 1.7h0m1 5.9h0m1.8 0.6h0m0.5 -24.3h0m-0.2 7.5h0m1.5 2.4h0m-0.1 15.6h0m0.7 -24h0m0.3 2.8h0m-0.4 20.7h0m1.1 -23.5h0m2.1 21.7h0m1.1 -0.1h0m0.2 0.2h0m0.8 -20.2h0m0.6 -15.4h0m0.3 11.4h0m0.7 17.5h0m1.6 -15.7h0m0.3 13h0m-0.2 1h0m0.1 8h0m1.1 -16.1h0m-0.2 11.7h0m0.7 -2h0m0 0.2h0m0.8 -15.3h0m0.6 4.9h0m0.2 12.2h0m-0.4 0.1h0m-0.4 6.6h0m1.3 -19.7h0m0 17.1h0m1.3 -10.7h0m-0.8 11.8h0m1.4 -17.7h0m0 6.9h0m-0.1 11.9h0m-0.2 1.8h0m30.2 -18.6h0m0.1 10.8h0m0.3 6h0m0.8 -19.4h0m-0.4 13h0m1.9 -18.3h0m-0.4 11.3h0m0.3 2.3h0m0.1 1.9h0m-0.4 3h0m0 0.3h0m0.9 -21.1h0m0.3 16.5h0m-0.8 7.4h0m0.1 0.9h0m0 1.6h0m1.4 -3.4h0m1.4 3.6h0m1.1 -8.6h0m0.2 -0.7h0m-0.1 0.1h0m0.8 9.3h0m0.8 -23.4h0m-0.2 0.7h0m0.5 4.6h0m-0.3 4.8h0m-0.3 3.7h0m-0.3 3.2h0m0.6 0.2h0m0.5 -4.3h0m0.3 3.7h0m0.4 3.1h0m-0.7 3.7h0m0.8 -27.7h0m0.3 3.3h0m0.3 5.5h0m0 4.7h0m-0.4 2h0m0 3.1h0m-0.1 0.6h0m0.1 0.1h0m0.7 3.8h0m-0.6 2.8h0m0.7 2.2h0m0.8 -32h0m-0.1 19.5h0m-0.2 0.8h0m-0.3 5.8h0m0.3 4.6h0m0.8 -29h0m0.1 11.8h0m-0.3 4.4h0m0.6 1.8h0m-0.6 0.8h0m0 4h0m0.7 3.2h0m-0.5 2.8h0m0.7 0.1h0m-0.6 2.4h0m1.6 -12.3h0m-0.5 7.6h0m1.4 -17.8h0m-0.1 11.5h0m0.2 11.4h0m0.4 -29.5h0m0.2 13.5h0m-0.6 16.4h0m1.3 -22.3h0m0.3 6.6h0m-0.3 8.4h0m0.2 1h0m-0.4 1h0m0.2 3.8h0m0.7 1.2h0m0.4 -29.2h0m3 -1.3h0m-0.1 26.5h0m0.7 1.8h0m2.6 -20.3h0m-0.4 14.7h0m0.3 5.8h0m0.7 -17.1h0m-0.2 4.9h0m1.2 -12.7h0m-0.2 2.9h0m0.8 22.7h0m0.1 1.3h0m0.9 -13.4h0m0 7h0m-0.4 4.6h0m27.3 -32.5h0m-0.1 9.8h0m0.3 1.3h0m-0.1 0.5h0m-0.3 12.5h0m0.1 4.6h0m0.2 3.5h0m1 -17.5h0m-0.7 1.2h0m0.7 0.6h0m-0.6 1.1h0m0.2 5h0m-0.2 2.5h0m0.8 2.1h0m-0.1 2.2h0m0 5h0m0.4 -25.6h0m-0.2 8.4h0m0.6 6.6h0m-0.1 1.4h0m-0.2 4.8h0m1.3 -20h0m-0.2 18.2h0m0.1 3.5h0m-0.1 1h0m0 0.1h0m0.2 1.4h0m0.9 -24.1h0m-0.1 2h0m0.3 8.1h0m-0.2 3.3h0m0.1 3h0m-0.7 1.6h0m0.1 0.7h0m0.7 1.8h0m-0.5 2.6h0m1.3 -43.8h0m-0.4 20.3h0m0.6 1.8h0m-0.4 2.5h0m0.5 2.8h0m-0.6 1.3h0m0 1.3h0m0.5 1.7h0m-0.2 2.7h0m0.3 3.4h0m-0.3 2.6h0m0.3 1h0m-0.4 1.8h0m1 -26.1h0m-0.1 18.8h0m0.8 -29.4h0m-0.1 5h0m0.1 10.3h0m0.6 0.5h0m-0.6 12.5h0m0 7h0m1.1 -6.8h0m1.4 -1.3h0m0.2 4.9h0m-0.3 6.5h0m0.9 -18h0m1.3 4.9h0m1.1 -7h0m-0.8 9.1h0m0.4 1.4h0m1.3 5.2h0m-0.5 2.4h0m1.1 -1.6h0m1 -16.4h0m0.7 0.7h0m0.6 0.8h0m-0.4 9.4h0m0.6 7.1h0m0.3 -30.8h0m0.4 10.7h0m0.3 5.1h0m-0.3 6.2h0m0.2 0.3h0m0 2.6h0m-0.2 0h0m-0.5 6.1h0m1.7 -17.7h0m0.1 1.3h0m0 4.7h0m-0.6 0.6h0m0.1 0h0m0.4 9.1h0m0.2 0.8h0m0 1.2h0m-0.7 0.3h0m0.7 -25.3h0m0.6 0.9h0m0.3 6.5h0m-0.3 0.5h0m-0.1 0.9h0m-0.2 11.9h0m0.3 5.5h0m1.3 -38.9h0m-0.4 17.2h0m-0.2 5.7h0m0.2 4.6h0m0.3 2.8h0m-0.1 9.3h0m1.2 -1h0m0.5 -30.1h0m0.1 6.3h0m0.5 15.9h0m-0.6 1h0m0 2.2h0m-0.3 0.7h0m0.5 2.9h0m1.2 -29.7h0m-0.6 14.5h0m24.6 6.6h0m0.9 -8.6h0m-0.5 4.2h0m0.3 10.6h0m1.4 -21.6h0m-0.4 2h0m-0.2 16.1h0m0 1.4h0m0.5 1.4h0m1.2 -35.6h0m-0.7 23.6h0m0.9 -2.9h0m0.2 18.8h0m-0.3 0.6h0m1.5 -9.4h0m0.1 7.8h0m0.6 2.1h0m2.5 -2.7h0m2 -2.7h0m0.9 -12.6h0m1.6 -12.6h0m1.2 -3.3h0m0.2 1.3h0m-0.1 10.8h0m-0.5 11.1h0m1.3 -9.4h0m-0.3 12.7h0m0.9 6.2h0m-0.6 0.2h0m2.2 -15.2h0m-0.3 7.9h0m1.3 -17.8h0m-0.4 2.9h0m1.5 -7h0m0.3 8.3h0m-0.2 20.6h0m2.2 1.4h0m0.1 -15.6h0m0.2 3.9h0m0 8.3h0m21.7 -0.4h0m0.3 -15h0m0.5 9.5h0m-0.3 0.6h0m0 2.7h0m0.3 4h0m1.1 -0.6h0m-0.1 0.7h0m1.1 -16.3h0m-0.4 2.5h0m1.1 -2.2h0m-0.3 9h0m-0.3 4.3h0m0.1 4.3h0m2.1 -18.1h0m0.8 4.8h0m-0.5 6h0m-0.1 2.5h0m0.6 0.8h0m-0.1 1.4h0m0.7 -22.7h0m-0.6 6.1h0m1 8.4h0m0.8 -12.2h0m-0.5 4.2h0m-0.2 10.6h0m1.3 -19.1h0m-0.3 15.9h0m0.5 3.8h0m0.3 4.5h0m0.7 -2.2h0m-0.3 1.8h0m0.4 3.8h0m0.9 -13.5h0m0.2 8.2h0m-0.1 1.7h0m-0.3 1.4h0m0.6 0.1h0m0.7 -22.9h0m-0.2 25h0m0.6 -10.1h0m0.2 3.7h0m0.7 1.2h0m-0.9 2h0m0 0.3h0m1.8 -8.7h0m-0.4 0.8h0m-0.3 1.5h0m0.5 6.4h0m1.2 -7.3h0m-0.2 2.7h0m-0.5 3.6h0m-0.1 0.1h0m1.2 -8.1h0m2.6 -13.8h0m-0.1 17.8h0m0 5.8h0m0.6 -17.6h0m0.4 4.8h0m0.3 4.3h0m0.2 7.8h0m23.4 -17.7h0m0.1 1.7h0m1 -6.5h0m3.3 25h0m2.9 -12.4h0m2.4 9.6h0m1.6 -12.4h0m0.4 14.9h0m0.8 -12.6h0m1 -3.4h0m25.2 2.8h0m0.3 2.9h0m5.3 -11h0m-0.9 6h0m18.7 13.3h0m1.9 2.3h0m4.4 -16.8h0m0.4 7h0m2.1 0.5h0m12.1 -13.4h0m0.9 10.7h0m-0.2 9.5h0m-0.3 0.9h0m1 -7.5h0m1.8 -5.9h0m-0.2 13.4h0m0.6 -29.4h0m-0.1 18.3h0m0.6 2.3h0m-0.5 7h0m1.6 -11.7h0m1.7 -2.1h0m0 3.6h0m0.9 -9.2h0m0.1 12.3h0m-0.5 1.6h0m0.2 8h0m0.9 -44.5h0m0.3 2.1h0m0.4 17.8h0m-0.6 5.3h0m1.8 -28.3h0m9.7 44.9h0m-0.2 3.4h0m0.6 -22.9h0m0.4 5.2h0m-0.4 12.6h0m0.5 0.1h0m-0.2 0.3h0m-0.1 4.3h0m0.5 0h0m1 -27.6h0m-0.8 3.6h0m-0.1 11.9h0m0.3 4.4h0m0.1 0.7h0m1 5h0m0.1 2.7h0m0.5 -19.1h0m0.6 7.7h0m-0.2 1.9h0m1 -2.1h0m0.4 10.6h0m1.8 -17.6h0m-0.5 11.2h0m1.1 -18.8h0m0.2 25.7h0" stroke="#175c1a" stroke-width="2.5" stroke-linecap="round" fill="none"/>
<path d="M96 200.3H97V257.5H96zM97 204.3H98V257.5H97zM98 201.3H99V257.5H98zM99 200.3H100V257.5H99zM100 197.3H101V257.5H100zM101 194.3H102V257.5H101zM102 199.3H103V257.5H102zM103 206.3H104V257.5H103zM104 206.3H105V257.5H104zM105 206.3H106V257.5H105zM106 205.3H107V257.5H106zM107 206.3H108V257.5H107zM108 206.3H109V257.5H108zM109 206.3H110V257.5H109zM110 203.3H111V257.5H110zM111 199.3H112V257.5H111zM112 199.3H113V257.5H112zM113 199.3H114V257.5H113zM114 202.3H115V257.5H114zM115 206.3H116V257.5H115zM116 205.3H117V257.5H116zM117 203.3H118V257.5H117zM118 203.3H119V257.5H118zM119 206.3H120V257.5H119zM120 206.3H121V257.5H120zM121 206.3H122V257.5H121zM122 195.3H123V257.5H122zM123 192.3H124V257.5H123zM124 198.3H125V257.5H124zM125 205.3H126V257.5H125zM126 206.3H127V257.5H126zM127 206.3H128V257.5H127zM128 206.3H129V257.5H128zM129 206.3H130V257.5H129zM130 206.3H131V257.5H130zM131 206.3H132V257.5H131zM132 200.3H133V257.5H132zM164 201.3H165V257.5H164zM165 201.3H166V257.5H165zM166 204.3H167V257.5H166zM167 207.3H168V257.5H167zM168 207.3H169V257.5H168zM169 207.3H170V257.5H169zM170 201.3H171V257.5H170zM171 197.3H172V257.5H171zM172 198.3H173V257.5H172zM173 202.3H174V257.5H173zM174 205.3H175V257.5H174zM175 202.3H176V257.5H175zM176 200.3H177V257.5H176zM177 201.3H178V257.5H177zM178 202.3H179V257.5H178zM179 205.3H180V257.5H179zM180 204.3H181V257.5H180zM181 200.3H182V257.5H181zM182 200.3H183V257.5H182zM183 206.3H184V257.5H183zM184 207.3H185V257.5H184zM185 207.3H186V257.5H185zM186 203.3H187V257.5H186zM187 196.3H188V257.5H187zM188 199.3H189V257.5H188zM189 205.3H190V257.5H189zM190 205.3H191V257.5H190zM191 205.3H192V257.5H191zM192 206.3H193V257.5H192zM221 212.3H222V257.5H221zM222 217.3H223V257.5H222zM223 217.3H224V257.5H223zM224 216.3H225V257.5H224zM225 212.3H226V257.5H225zM226 212.3H227V257.5H226zM227 212.3H228V257.5H227zM228 211.3H229V257.5H228zM229 212.3H230V257.5H229zM230 215.3H231V257.5H230zM231 217.3H232V257.5H231zM232 217.3H233V257.5H232zM233 214.3H234V257.5H233zM234 211.3H235V257.5H234zM235 209.3H236V257.5H235zM236 208.3H237V257.5H236zM237 216.3H238V257.5H237zM238 216.3H239V257.5H238zM239 213.3H240V257.5H239zM240 211.3H241V257.5H240zM241 207.3H242V257.5H241zM242 213.3H243V257.5H242zM243 217.3H244V257.5H243zM244 217.3H245V257.5H244zM245 217.3H246V257.5H245zM246 187.3H247V257.5H246zM271 198.3H272V257.5H271zM272 192.3H273V257.5H272zM273 178.3H274V257.5H273zM274 192.3H275V257.5H274zM275 198.3H276V257.5H275zM276 198.3H277V257.5H276zM277 198.3H278V257.5H277zM278 196.3H279V257.5H278zM279 194.3H280V257.5H279zM280 195.3H281V257.5H280zM281 200.3H282V257.5H281zM282 202.3H283V257.5H282zM283 201.3H284V257.5H283zM284 199.3H285V257.5H284zM285 197.3H286V257.5H285zM286 196.3H287V257.5H286zM287 199.3H288V257.5H287zM288 195.3H289V257.5H288zM289 196.3H290V257.5H289zM290 196.3H291V257.5H290zM291 195.3H292V257.5H291zM292 198.3H293V257.5H292zM293 200.3H294V257.5H293zM316 207.3H317V257.5H316zM317 203.3H318V257.5H317zM318 201.3H319V257.5H318zM319 198.3H320V257.5H319zM320 189.3H321V257.5H320zM321 176.3H322V257.5H321zM322 184.3H323V257.5H322zM323 193.3H324V257.5H323zM324 195.3H325V257.5H324zM325 197.3H326V257.5H325zM326 198.3H327V257.5H326zM327 198.3H328V257.5H327zM328 198.3H329V257.5H328zM329 198.3H330V257.5H329zM330 198.3H331V257.5H330zM331 198.3H332V257.5H331zM332 198.3H333V257.5H332zM333 197.3H334V257.5H333zM334 198.3H335V257.5H334zM335 196.3H336V257.5H335zM336 193.3H337V257.5H336zM357 202.3H358V257.5H357zM358 198.3H359V257.5H358zM359 194.3H360V257.5H359zM360 197.3H361V257.5H360zM361 202.3H362V257.5H361zM362 195.3H363V257.5H362zM363 190.3H364V257.5H363zM364 192.3H365V257.5H364zM365 198.3H366V257.5H365zM366 201.3H367V257.5H366zM367 201.3H368V257.5H367zM368 196.3H369V257.5H368zM369 199.3H370V257.5H369zM370 201.3H371V257.5H370zM371 200.3H372V257.5H371zM372 200.3H373V257.5H372zM373 199.3H374V257.5H373zM374 197.3H375V257.5H374zM375 198.3H376V257.5H375zM376 201.3H377V257.5H376zM394 219.3H395V257.5H394zM397 208.3H398V257.5H397zM398 204.3H399V257.5H398zM399 202.3H400V257.5H399zM400 203.3H401V257.5H400zM401 201.3H402V257.5H401zM402 202.3H403V257.5H402zM403 202.3H404V257.5H403zM404 202.3H405V257.5H404zM405 206.3H406V257.5H405zM406 206.3H407V257.5H406zM407 208.3H408V257.5H407zM408 206.3H409V257.5H408zM409 200.3H410V257.5H409zM410 202.3H411V257.5H410zM427 202.3H428V257.5H427zM428 196.3H429V257.5H428zM429 194.3H430V257.5H429zM430 212.3H431V257.5H430zM431 214.3H432V257.5H431zM432 215.3H433V257.5H432zM433 199.3H434V257.5H433zM434 199.3H435V257.5H434zM435 197.3H436V257.5H435zM436 195.3H437V257.5H436zM437 196.3H438V257.5H437zM438 202.3H439V257.5H438zM439 202.3H440V257.5H439zM440 209.3H441V257.5H440zM452 198.3H453V257.5H452zM453 195.3H454V257.5H453zM454 189.3H455V257.5H454zM455 187.3H456V257.5H455zM456 193.3H457V257.5H456zM457 197.3H458V257.5H457zM458 195.3H459V257.5H458zM459 197.3H460V257.5H459zM460 198.3H461V257.5H460zM461 198.3H462V257.5H461zM462 195.3H463V257.5H462zM474 190.3H475V257.5H474zM475 195.3H476V257.5H475zM476 197.3H477V257.5H476zM477 189.3H478V257.5H477zM478 190.3H479V257.5H478zM479 189.3H480V257.5H479zM480 192.3H481V257.5H480zM481 193.3H482V257.5H481zM482 193.3H483V257.5H482zM491 200.3H492V257.5H491zM492 200.3H493V257.5H492zM493 197.3H494V257.5H493zM494 195.3H495V257.5H494zM495 196.3H496V257.5H495zM496 198.3H497V257.5H496zM497 195.3H498V257.5H497zM498 192.3H499V257.5H498z" fill="#0404f6"/>
<path d="M96.4 191.6h0m-0.3 3.3h0m0 2.6h0m0.9 -23.2h0m0.2 5h0m-0.2 2.8h0m-0.3 1.8h0m0.3 3.9h0m0 10.5h0m1.1 -20.1h0m-0.1 2.5h0m-0.3 5.7h0m0.7 4.5h0m-0.3 3.1h0m-0.1 3.7h0m-0.4 0.4h0m0.8 2.7h0m-0.8 0.8h0m0.4 0.7h0m-0.3 1.4h0m1.5 -30.5h0m-0.6 1.5h0m0.6 8.5h0m-0.6 1.7h0m0.7 1.9h0m-0.3 1.5h0m0.2 2.3h0m-0.1 5.7h0m0 3.5h0m-0.3 0.5h0m1.5 -23.8h0m-0.5 1.9h0m0 6.4h0m-0.2 0.6h0m0.6 1.4h0m0.1 1.4h0m0.1 0.1h0m-0.3 2.9h0m0.3 0.2h0m-0.7 3.1h0m0.7 0.4h0m-0.6 2.7h0m0.1 0.3h0m-0.3 1.3h0m1.7 -26.8h0m-0.7 2.5h0m0.1 2.6h0m0.4 0.4h0m-0.4 0.1h0m0.6 1.1h0m-0.1 0.3h0m0 0.5h0m-0.3 1.1h0m-0.3 2h0m0.5 3.9h0m0.4 1h0m-0.7 2.2h0m0.4 1h0m0.1 1.7h0m0.1 0.6h0m-0.8 3h0m1 -23.8h0m0.3 3.3h0m0 0.1h0m0.6 2.3h0m-0.1 3.1h0m-0.9 0.9h0m0.3 0.7h0m0 3h0m0.2 1.1h0m0.3 0.2h0m0.1 0.8h0m0 2.2h0m0 1.1h0m-0.1 2.5h0m0 3.1h0m0 0.6h0m0.6 -11.5h0m0.3 1.5h0m-0.5 0.8h0m-0.1 0.4h0m0.5 2.4h0m-0.2 3.7h0m0 3.3h0m-0.1 0.6h0m1.4 -20.3h0m0.1 16.1h0m0.6 -8.7h0m0.2 5.8h0m0.1 6.6h0m-0.3 4h0m-0.4 0.2h0m0.7 0.7h0m0.3 0h0m0.8 -29.9h0m-0.1 2.2h0m-0.5 3.2h0m0.4 2.1h0m-0.4 16.7h0m0.4 0.3h0m0.3 2.7h0m-0.7 3.8h0m-0.1 1.7h0m1.4 -28.7h0m-0.1 6.6h0m0.5 4.1h0m-0.5 1.8h0m-0.1 0.8h0m0 0.3h0m0.3 1h0m-0.4 3.1h0m0 8h0m0.1 0.4h0m-0.1 1.3h0m0.1 0.1h0m0.7 0.6h0m0.2 -22.1h0m0.8 3.8h0m-0.8 5.4h0m0.2 10.4h0m0.3 0.1h0m-0.2 2.1h0m1.5 -10.6h0m-0.7 5.9h0m-0.3 2.5h0m1.8 -24.6h0m-0.2 4.1h0m0 1.9h0m0.2 9.7h0m-0.1 0.3h0m0 0.6h0m-0.3 8.7h0m-0.1 1.8h0m1.2 -32.2h0m0 3.6h0m0.3 7.7h0m-0.1 1.9h0m0.3 2.1h0m-0.5 5h0m-0.2 0.1h0m-0.1 0.4h0m0.5 1h0m0.1 2h0m-0.3 0.7h0m0.3 0.6h0m-0.4 1.3h0m0.9 -15.5h0m0.5 1.5h0m-0.5 1.2h0m0.6 5.1h0m-0.7 2.1h0m0.3 0.6h0m0.2 2.9h0m-0.6 1.2h0m1.9 -12.7h0m-0.7 6.4h0m0.4 0.6h0m-0.4 3.2h0m0.1 0.1h0m0.2 1.6h0m-0.1 0.1h0m-0.1 0.6h0m1.3 -26.3h0m0.3 6.6h0m-0.1 8.5h0m-0.8 1.8h0m0.8 4.7h0m0 0.9h0m-0.8 3h0m1 -22.7h0m0.5 7.3h0m-0.3 0.7h0m0 0.5h0m0.4 1.1h0m0.1 10.3h0m-0.2 0.2h0m-0.5 3h0m0.8 0.5h0m-0.7 1h0m0.2 0.3h0m0.1 0.8h0m0.2 0.2h0m0.1 0.9h0m1.2 -24.5h0m-0.2 4.3h0m0.1 4.5h0m-0.6 9.7h0m-0.2 2.2h0m0.2 1.3h0m0.5 1.1h0m-0.1 0.9h0m-0.5 3.9h0m1.7 -24.6h0m-0.2 7h0m0 4.1h0m-0.3 3.9h0m0.6 6.9h0m0.3 -30.3h0m0.3 3.9h0m0.2 16h0m0.1 2.9h0m-0.8 3.8h0m0.6 0h0m-0.5 0.3h0m0.1 0.7h0m0.1 1.2h0m0.8 -13.9h0m0.6 9.7h0m0.7 -14.9h0m-0.2 13.2h0m-0.1 1.9h0m0 8.3h0m1.7 -29.3h0m-0.3 0.8h0m0.1 3.7h0m0.2 4.6h0m-0.3 2.8h0m0.1 12.6h0m-0.3 2.7h0m1.3 -24.3h0m-0.5 7.7h0m0.6 0.4h0m-0.7 5.2h0m0.3 0.7h0m-0.2 3.7h0m0.3 5.1h0m-0.2 2.1h0m0.2 1h0m1 -26.6h0m-0.2 6h0m-0.1 1.4h0m0 0.8h0m1 -11.2h0m0.2 0.8h0m-0.4 0.6h0m0.5 2.6h0m-0.5 1.2h0m0.2 0.1h0m0.5 3.3h0m-0.7 6.8h0m0.6 3h0m0.3 2.2h0m0.5 -19.8h0m0.1 5.3h0m-0.1 0.1h0m-0.1 4.9h0m0.5 7h0m-0.3 2.7h0m-0.4 0.1h0m0.2 1.3h0m0.7 3.6h0m-0.3 0.3h0m0.4 -20.1h0m0.1 1h0m0.6 8h0m-0.6 4.3h0m0.1 6.4h0m0.6 1.8h0m-0.6 0.1h0m-0.3 0.3h0m0.2 0.5h0m0.4 1.6h0m1.3 -29h0m-0.9 24.1h0m0.3 3h0m1.2 -27.1h0m0.1 8.3h0m0.1 0.2h0m-0.5 9.5h0m-0.1 4.4h0m0.6 4.9h0m0.1 1.8h0m1.2 -14.2h0m-0.8 2.7h0m0.7 7.6h0m-0.4 1.1h0m0.3 0h0m-0.5 3.3h0m1.5 -24.6h0m-0.6 10.9h0m0.2 3.7h0m0.5 6.5h0m-0.6 0.2h0m0 2.7h0m1 -14.6h0m0 0.4h0m0.3 1.3h0m-0.6 2.5h0m1 1.5h0m-0.1 5.4h0m0.6 -26.9h0m0.1 19.5h0m-0.6 3.1h0m0.7 2.2h0m-0.3 0.9h0m0 1.4h0m-0.4 0.3h0m0.4 1.1h0m-0.1 1.1h0m0.8 -7.2h0m31.5 -24.8h0m0.2 1.4h0m0 1.2h0m0 2.3h0m-0.2 5h0m0.3 2.5h0m0 0.4h0m-0.3 7.3h0m0.1 4.3h0m0.7 -18.8h0m-0.1 1.9h0m-0.2 0.4h0m0.1 1.3h0m0.2 1.7h0m0.5 0.3h0m-0.4 0.9h0m-0.1 0.4h0m0.3 8.7h0m-0.4 4.1h0m0.4 1.3h0m0.2 0.3h0m-0.7 1h0m1.2 -27.2h0m0.4 4.5h0m-0.8 0.5h0m0.3 0.2h0m0.2 5.4h0m0.1 7.4h0m0.2 8.2h0m0.1 1h0m0 1.8h0m-0.3 1.2h0m0.5 -21.7h0m0.1 4.4h0m0.7 1.1h0m-0.3 1.1h0m-0.5 2.5h0m0.2 0.5h0m0.1 1.7h0m-0.2 1.5h0m0 1.3h0m0.4 0.6h0m0.1 1.1h0m0.1 0.9h0m-0.7 3.6h0m0.7 0.9h0m-0.2 1.1h0m0.1 0.2h0m1.1 -24.3h0m0 21h0m-0.6 5h0m1.8 -22.4h0m-0.3 13.7h0m-0.2 2.2h0m0.5 3.8h0m0.2 -19h0m0.5 6.3h0m0 2.2h0m-0.1 3h0m-0.5 0h0m0.5 0.1h0m0.3 2.2h0m-0.8 1.3h0m0.2 3.7h0m0.2 0.4h0m0.8 -27.3h0m0.6 1.1h0m-0.7 1.2h0m0.7 6h0m-0.1 0.9h0m-0.3 7.8h0m0 2.1h0m-0.2 1.9h0m-0.1 2.1h0m1.8 -26.3h0m-0.7 4.5h0m0 1.2h0m0.5 0.5h0m-0.1 1.7h0m-0.1 5.5h0m-0.1 0.3h0m0 0.9h0m0.5 0h0m-0.4 0.2h0m0.2 1.8h0m-0.2 3.8h0m0.1 4.1h0m0.8 -11.8h0m-0.1 1.2h0m0.1 4.1h0m-0.3 3.2h0m-0.1 0.9h0m-0.1 0.1h0m0.7 3.8h0m0.3 -21h0m0.5 2.8h0m0.3 4.8h0m-0.4 1.7h0m-0.2 1.2h0m0.6 3.7h0m-0.7 2h0m0.2 1.2h0m-0.1 3.3h0m0.3 0.7h0m-0.3 0.4h0m0.3 3.9h0m0.2 1.3h0m1 -31.6h0m0 0.9h0m0.3 6.2h0m-0.3 6.7h0m0.1 4.1h0m0.1 2.4h0m-0.4 0.3h0m-0.1 0.1h0m0.2 0.6h0m-0.2 5.2h0m0.3 1.7h0m0.1 0.2h0m-0.4 1h0m-0.4 1.8h0m1.1 -27.9h0m0.7 10.2h0m-0.3 2.9h0m0.3 2.6h0m0.1 1.5h0m-0.1 0.4h0m-0.6 3.6h0m0.4 1.6h0m-0.1 0.5h0m0.8 -20.8h0m0.3 11.5h0m0.1 3.4h0m-0.4 4.8h0m0.6 1.3h0m0.1 0.8h0m0.8 -27.7h0m-0.7 11.4h0m0 3.4h0m0.5 2.8h0m-0.6 2.3h0m0 2.2h0m0.8 4.1h0m-0.6 1.1h0m1.1 -16h0m0.1 2.1h0m0 7h0m0.3 5.6h0m-0.6 0.9h0m0.4 0.9h0m0.2 1.3h0m1 -23.6h0m0 10.5h0m0.3 7.8h0m-0.2 1.8h0m0.1 2.9h0m-0.2 1.5h0m0.6 -23h0m0.6 1.7h0m-0.6 13.5h0m-0.3 3.1h0m0.1 1.7h0m0.4 0.8h0m1.5 -27.1h0m-0.4 0.1h0m-0.4 7h0m0.2 4.4h0m-0.1 3.9h0m0.4 0.5h0m-0.6 2.3h0m0.6 6.4h0m0.3 1.2h0m-0.6 0.1h0m1.1 -22.6h0m-0.3 1.9h0m0.2 0.9h0m0.5 0.8h0m-0.9 3.6h0m0.1 5.4h0m0.3 4.1h0m-0.1 2.6h0m1.4 -19.9h0m0.1 12.2h0m-0.3 3.9h0m-0.3 0.6h0m0.2 9.8h0m0.3 0.5h0m0.1 0.9h0m-0.3 0.2h0m1.2 -6h0m-0.5 0.4h0m0.8 2.5h0m-0.5 1.6h0m0 2.3h0m0.2 1.3h0m0.5 -19.5h0m-0.1 1.1h0m0.4 0.7h0m0.4 8.1h0m-0.4 3.2h0m-0.2 1.7h0m0 0.2h0m0.4 0.6h0m-0.7 0.8h0m0.1 0.7h0m0.3 1.7h0m1.4 -23.4h0m-0.6 8h0m0.8 1.7h0m-0.8 1.3h0m0.7 0.1h0m-0.8 3.2h0m0.3 0.5h0m0.9 -23.7h0m0.6 2.9h0m-0.3 6.2h0m0 0h0m0 1.4h0m0.1 2.2h0m-0.6 4h0m0.6 3.6h0m-0.7 0.1h0m0.9 0.6h0m-0.1 2.7h0m0.1 1.5h0m0.3 -19.9h0m0.3 1.8h0m-0.1 0.1h0m0.1 9.3h0m-0.3 4h0m0.7 5.9h0m-0.4 1h0m1.1 -27.9h0m-0.2 3.1h0m-0.1 5.2h0m0.5 7.7h0m0.2 9.1h0m-0.5 2h0m0 0.3h0m0.1 1.4h0m0 1.7h0m-0.6 0.2h0m0.5 0.1h0m0.1 0.7h0m0.9 -8.6h0m-0.2 0.8h0m0.3 5.3h0m1.2 -27.8h0m0 8.1h0m-0.2 2.9h0m-0.4 1h0m0.4 2.4h0m-0.2 3.3h0m0.4 0.5h0m-0.1 2.1h0m-0.6 0.2h0m0.4 3h0m-0.4 4h0m0 1.3h0m0.8 0.4h0m0.2 -24.9h0m0 8.9h0m0 3.2h0m0 2.4h0m0 7.3h0m0.3 1.1h0m28.4 -6.5h0m-0.3 3.4h0m0 2.2h0m0.2 4h0m-0.2 5.4h0m1.5 -35.8h0m-1 16.8h0m0.7 1.2h0m-0.3 3.2h0m0 3.1h0m0.3 12h0m0.9 -15.3h0m0.1 7.5h0m-0.5 2.9h0m0.2 7.6h0m0.3 3.2h0m0.4 -41.2h0m0.5 4.8h0m0.4 10.7h0m-0.4 18.4h0m-0.4 3.8h0m0.4 0h0m0.2 1.1h0m0 0.3h0m0.7 -34.3h0m0.1 1.2h0m-0.1 19.9h0m-0.1 0.7h0m0.4 1.4h0m0.1 2.8h0m-0.8 0.3h0m0.8 1.3h0m-0.3 0.5h0m0.1 0.9h0m-0.2 1.4h0m0.3 0.2h0m-0.4 1.9h0m-0.3 1.3h0m1.7 -37.3h0m-0.5 4.9h0m0.2 0.2h0m-0.3 1.8h0m0.7 1.1h0m-0.9 1.3h0m0.6 16.1h0m-0.3 1.6h0m0.2 1.8h0m0 1.9h0m0.5 2.8h0m-0.9 0.3h0m0.5 0.1h0m0.1 0.8h0m-0.6 0.4h0m0.4 0h0m0.8 -30h0m-0.1 3.2h0m0.6 8.4h0m-0.8 0.4h0m0.7 3.3h0m0.3 9.6h0m-0.4 0.1h0m1.4 -34.7h0m-0.9 1h0m0.6 1.1h0m0 4.8h0m-0.7 1.4h0m0.8 0h0m-0.3 4.3h0m-0.1 5.8h0m0.2 1.4h0m0.3 1.5h0m-0.2 9.5h0m-0.5 8.6h0m1.1 -38.4h0m0.7 4.6h0m-0.3 2.5h0m-0.2 14h0m-0.1 11.3h0m0.3 0.4h0m0.2 2.4h0m0.6 -26.3h0m0.1 1.4h0m-0.3 0.1h0m0.1 8.1h0m-0.1 2.2h0m0.4 5h0m-0.5 6.1h0m0 3h0m0.1 0.3h0m1.1 -30h0m-0.4 4.5h0m0.4 11h0m-0.1 0.9h0m0.4 13.2h0m0.2 6.7h0m0.5 -38.6h0m0.3 8.2h0m-0.6 2.8h0m0.4 6.7h0m0.5 12.4h0m-0.9 0.2h0m0.6 5.1h0m-0.3 0.8h0m1.2 -27.3h0m-0.1 3.4h0m0.4 9.5h0m-0.1 3.7h0m-0.3 1.4h0m0.1 1.2h0m0.3 5.6h0m-0.4 3.6h0m1.1 -39.6h0m-0.3 2.9h0m-0.2 10.1h0m0.7 6.5h0m-0.1 2.1h0m-0.2 7.3h0m0.4 2.1h0m-0.4 1h0m0 1.7h0m0.5 1.3h0m-0.9 1.9h0m-0.1 1.1h0m1.6 -33.2h0m0.2 3h0m0 2.1h0m0 0.7h0m-0.3 0.4h0m0.3 0.5h0m0 0.9h0m-0.8 0.6h0m0.5 2.3h0m0.1 5.8h0m0.3 3.5h0m-0.4 1.7h0m0.2 8.8h0m-0.2 0.1h0m1.4 -30.9h0m-0.2 5.7h0m-0.6 6.9h0m0.8 1.9h0m0 0.6h0m-0.4 0.4h0m-0.4 1.8h0m0.4 2.5h0m-0.4 1.7h0m0.7 4.6h0m0.1 1.9h0m-0.7 0.1h0m-0.2 1h0m0.4 0.3h0m0.4 0h0m1.1 -34.5h0m-0.8 4.5h0m0.9 1h0m-0.5 0.7h0m-0.1 1.5h0m-0.3 0.5h0m0.2 6.9h0m-0.1 3h0m0.2 3.9h0m0.1 4.1h0m0.2 7.9h0m-0.2 0.6h0m0.5 2.1h0m-0.3 5.9h0m0.4 -20.1h0m0 9.8h0m0.4 1.8h0m0.5 1h0m-0.8 0.5h0m0 6.9h0m1.6 -30.7h0m-0.7 4.4h0m0.7 11.7h0m-0.2 7.9h0m0.3 0.8h0m0.1 0.3h0m-0.1 1h0m-0.7 2.8h0m1.2 -30h0m0.4 0.3h0m0.2 0.4h0m-0.8 8.3h0m0.3 4.6h0m0.2 1.2h0m-0.6 2.7h0m0.7 8h0m-0.1 1.8h0m-0.4 0.3h0m0.1 0.8h0m-0.3 0.5h0m1.3 -39.1h0m0.1 3.6h0m-0.3 1.3h0m0.6 7h0m0 5.4h0m0.2 0.2h0m-0.5 0.6h0m-0.4 2.4h0m0.5 1.9h0m0.3 0.3h0m-0.8 7.6h0m0.4 1.4h0m-0.4 1.2h0m0.4 3.6h0m-0.1 0.3h0m1.2 -26.2h0m-0.3 0.4h0m0.5 7.8h0m-0.8 0.2h0m0.5 2.9h0m-0.5 2.7h0m0.5 0.9h0m-0.2 0.4h0m-0.2 0.9h0m0.2 2.1h0m0.3 1.1h0m-0.1 0.1h0m-0.4 3.3h0m0.4 3.9h0m0.9 -37.9h0m-0.3 0.7h0m0.4 13.1h0m0.5 5h0m-0.8 2.1h0m0.1 0.7h0m0.1 14.8h0m-0.2 3h0m-0.1 0.3h0m0.8 3.3h0m0.5 -26.7h0m0.4 2.9h0m-0.6 18.7h0m0.7 0.9h0m-0.8 5.2h0m1.5 -37h0m0 2.7h0m0.3 1.9h0m-0.4 6.9h0m0.1 8h0m0.2 1.9h0m-0.4 1.2h0m-0.3 6.1h0m-0.1 0.7h0m0.9 0.5h0m-0.7 6.3h0m0.2 0.8h0m1.3 -44h0m-0.2 2.9h0m0.2 4.6h0m-0.6 9.4h0m0.4 3h0m-0.4 13.9h0m0.1 3.5h0m-0.1 6.3h0m0.2 0.3h0m0.7 -43.4h0m0.5 5.8h0m-0.4 1.6h0m-0.1 3.4h0m0.1 0.3h0m0.2 0.6h0m24.3 7.3h0m-0.1 2.3h0m0.3 0.7h0m0.3 -20.3h0m0.1 0.6h0m0.3 13.4h0m0 2h0m-0.1 0.7h0m1.5 -15.9h0m0 0.3h0m-0.9 9.4h0m1.8 -10h0m0.1 4.2h0m-0.3 1.8h0m-0.1 7.5h0m0.7 -14.2h0m1.5 11.2h0m0.1 3.7h0m0.1 0.2h0m-0.1 3.1h0m0 0.2h0m-0.1 1.4h0m0 0.6h0m1.1 -22.3h0m-0.6 1.1h0m0.2 5.2h0m0.2 4.5h0m0.4 0.5h0m-0.2 3.3h0m0 3.5h0m-0.1 0.4h0m0.1 3.3h0m0.1 0.1h0m-0.7 0.2h0m0.1 0.8h0m-0.2 0.3h0m0.2 0.8h0m0.3 0.7h0m0.4 0.2h0m0.9 -16.3h0m-0.8 1.2h0m0.9 7.8h0m-0.1 4.6h0m-0.1 0.1h0m0.8 -21.3h0m0.2 8.4h0m-0.7 7.3h0m0.8 3.5h0m0 0.9h0m0.4 -18.6h0m0.6 3.6h0m-0.5 3.8h0m0.5 0h0m-0.8 0.3h0m0.5 5.6h0m-0.5 0h0m0.6 0.5h0m-0.6 0.7h0m0.2 0.3h0m-0.2 2.4h0m-0.1 0.5h0m1.9 -16h0m-0.5 14.2h0m-0.3 0.5h0m1.1 -10h0m0.3 3.6h0m-0.3 5.4h0m0.5 0.1h0m-0.2 5.2h0m1.1 -19.7h0m0.2 0.8h0m-0.1 13.6h0m-0.5 2h0m0.3 3.2h0m0 1h0m-0.2 0.9h0m1.5 -15.5h0m-0.7 8.9h0m0.1 1.1h0m0.3 0.4h0m0.2 0.7h0m-0.4 2.3h0m0.5 0.5h0m-0.8 1.6h0m0.5 0.5h0m-0.1 2.3h0m1.3 -17.4h0m0.1 3.8h0m-0.1 6.7h0m-0.3 3.7h0m1 -23.4h0m0 0.7h0m0.2 4.1h0m0.2 8.2h0m0 0.5h0m-0.6 6.5h0m-0.2 1.3h0m0 0.4h0m0 0.4h0m1.1 -19.3h0m0.7 3.1h0m-0.5 5.9h0m0.3 1.5h0m-0.2 2.7h0m0.2 1.3h0m-0.2 3h0m-0.2 1.6h0m0.4 1.6h0m1.1 -20.3h0m0 6.4h0m-0.5 1.2h0m0.7 0.3h0m0.1 0.3h0m-0.1 2.6h0m-0.9 0.6h0m0.9 1h0m-0.6 5h0m0.1 1.9h0m0.7 -20.8h0m0.4 0.4h0m0.4 2.9h0m0 5.5h0m-0.1 2.2h0m-0.3 0.8h0m0 1.7h0m-0.3 1.8h0m-0.1 0h0m1.4 -12.8h0m0.4 2.4h0m-0.1 1.1h0m-0.7 8.2h0m0.4 2.1h0m0 1.2h0m-0.5 1.5h0m0.6 0.8h0m0.5 -20.7h0m0.3 11.6h0m0.4 1.3h0m-0.4 8.2h0m0.6 -9.9h0m0.2 8.1h0m0.3 2.1h0m0.7 -19.5h0m0.6 6.3h0m-0.3 0.2h0m0.1 0.1h0m-0.4 2.7h0m0.2 0.2h0m0.4 0.4h0m-0.7 0.6h0m0.4 0.5h0m0 0.6h0m-0.1 2h0m-0.2 1.3h0m0.2 4.6h0m0.3 2.5h0m0.5 -6.9h0m22.6 -8.4h0m-0.2 14.7h0m0.1 1.7h0m0.2 6.5h0m1 -34.1h0m-0.3 8.8h0m-0.1 3.8h0m0.5 3.8h0m-0.3 8.4h0m-0.7 4.6h0m0.2 0.7h0m0.3 0.6h0m-0.1 0.8h0m0.8 -25.6h0m-0.1 0.5h0m0 0.1h0m0.3 1.2h0m-0.4 0.2h0m0.1 2.5h0m0.7 2.9h0m-0.7 5.1h0m0.1 0.6h0m0.6 0h0m0.6 0.7h0m0.5 4.9h0m-0.7 2.5h0m0.1 0.4h0m1.2 -25.4h0m0.4 2h0m-0.2 2.8h0m0 3.2h0m-0.1 2h0m0.3 2.4h0m-0.4 8.9h0m0.9 -19.7h0m0.5 0.1h0m-0.5 4.1h0m1.1 -7.6h0m0.2 3.4h0m-0.2 3.3h0m0.2 0.7h0m-0.1 0.3h0m0.2 2.8h0m0 0.9h0m0.4 -9.3h0m0 1.1h0m0.2 1.3h0m0.3 0.4h0m-0.7 0.2h0m0.8 0.1h0m-0.2 10.4h0m0.3 3.1h0m0.6 -17.9h0m0.4 1.8h0m-0.4 0.8h0m0.1 6.1h0m-0.5 0h0m0 4.3h0m0.2 5h0m0.1 0.5h0m0.2 1.5h0m0.5 -17.9h0m0.2 3.8h0m0 4h0m0.6 4.1h0m-0.4 0.8h0m0.3 1.9h0m-0.6 1h0m-0.2 1.9h0m0.8 0.9h0m-0.7 0.1h0m1.4 -13.3h0m-0.1 2.3h0m-0.2 3.4h0m0.6 4.3h0m-0.3 1.9h0m0.3 2.4h0m0.6 -22.1h0m-0.2 3.4h0m0.3 10.5h0m-0.1 0.3h0m0.4 4h0m-0.4 5.5h0m1.5 -23.7h0m-0.5 2.3h0m0.2 6.8h0m-0.5 4.8h0m0.9 7.6h0m-0.1 2.7h0m1 -17.4h0m-0.4 13.6h0m1.2 -10.9h0m-0.6 6.5h0m0.9 3.9h0m-0.4 0.4h0m0.2 2.7h0m1 -5.4h0m-0.4 0.5h0m1.1 -11.5h0m-0.1 1.2h0m-0.1 5.1h0m1.2 -0.3h0m0.1 0.4h0m0.3 0.9h0m-0.5 4.9h0m0.3 0.7h0m-0.7 1.4h0m1.7 -19.4h0m0.3 10.5h0m-0.1 8.4h0m-0.7 1.1h0m0.7 0.8h0m-0.5 0.1h0m-0.4 0h0m0.9 1.2h0m-0.7 0.3h0m1.4 -19.5h0m-0.1 4.1h0m0.4 0.2h0m-0.6 4.3h0m0.6 1h0m0 0h0m-0.6 7.4h0m0.7 1.6h0m-1 1.9h0m1.6 -18.8h0m0.1 9.6h0m-0.5 1.4h0m0.7 0.6h0m-0.3 0.2h0m0.1 1.5h0m0.2 0.1h0m-0.4 0.2h0m0.7 -3.4h0m-0.2 1.7h0m20.7 1.6h0m0 6.4h0m1.1 -26.7h0m0 7.9h0m-0.5 5.5h0m0.7 2.8h0m-0.1 4h0m0.9 -19.9h0m-0.1 7.5h0m-0.1 7.8h0m-0.6 1.7h0m0.7 1.9h0m0.2 1h0m-0.3 1.2h0m1.4 -19h0m-0.4 8h0m-0.5 3.1h0m0.1 1.6h0m0.4 3.3h0m-0.1 4.4h0m0.3 0.4h0m0.2 -14.6h0m0.9 1.2h0m-0.8 6.1h0m-0.1 4.6h0m0.1 3h0m0.7 2.7h0m-0.3 3.4h0m1.4 -20.9h0m-0.2 8.1h0m0 0.1h0m0 1.5h0m-0.2 0.1h0m0.1 2.2h0m0.1 1.5h0m-0.7 0h0m0.8 0.4h0m0.2 0.1h0m-0.8 2.7h0m1.5 -22.3h0m-0.6 11h0m0.2 1.5h0m-0.1 0.4h0m0.3 0.5h0m-0.5 0.2h0m0.7 0.6h0m-0.6 0.1h0m0.2 0h0m0.5 0.1h0m-0.3 3.1h0m-0.5 1.9h0m1.6 -14.2h0m-0.2 7.1h0m0.5 0.9h0m-0.5 1.2h0m0.6 -7.9h0m0.5 4.3h0m0 4.8h0m0.1 2.1h0m-0.1 0.3h0m0 1.3h0m0 0.3h0m0.4 2.6h0m0.4 -6.6h0m-0.1 2.2h0m0.7 4.9h0m-0.3 1.1h0m0.4 1.7h0m-0.3 0.1h0m0.3 -14h0m0.8 6.2h0m-0.7 3.9h0m0.6 2h0m-0.2 0.5h0m0 0.6h0m-0.1 0h0m1.5 -8.5h0m-0.6 5.1h0m1.6 -20.3h0m-0.6 12h0m-0.2 5.9h0m0.8 3.6h0m0.3 -23.2h0m0.2 3.9h0m-0.4 7.7h0m0 7.3h0m0.7 2.3h0m-0.7 1.4h0m1.4 -4.2h0m0.3 3.6h0m-0.2 0.2h0m0 2.1h0m0.4 0.5h0m-0.9 0.4h0m0.4 1h0m0.8 -13.4h0m0.4 2.6h0m-0.5 1.1h0m0.5 2.4h0m0.2 0.5h0m0.2 4.6h0m0.5 -21.1h0m0 4.9h0m0.4 1.2h0m0 3.4h0m-0.7 8.4h0m0.8 1.8h0m-0.2 1.1h0m0.4 -14.8h0m0.4 4.9h0m-0.6 1.9h0m0.3 2.6h0m0.1 3.8h0m1 -21.9h0m-0.4 7.7h0m0.7 2.6h0m0.2 2.7h0m-0.3 1.1h0m0 2.3h0m-0.3 3h0m0.6 1.8h0m-0.4 0.2h0m0.7 -9.2h0m0 0.7h0m0.2 1.2h0m-0.2 0.3h0m0.1 3.2h0m0.4 0.8h0m-0.5 2.9h0m0.6 0.2h0m-0.6 1.4h0m1.3 -8.9h0m-0.1 5.9h0m0 4.4h0m17.3 -18.1h0m0.1 6.7h0m-0.1 2.7h0m0.2 18.5h0m-0.3 1.1h0m0.4 2.2h0m0.3 -39.8h0m0.2 2.6h0m-0.3 28.7h0m-0.1 4.7h0m0 7.5h0m0.3 1.2h0m1 17.8h0m1.3 -56.8h0m0.2 23.4h0m-0.3 0.2h0m0.3 2.7h0m0.1 0.5h0m-0.3 0.2h0m0 2h0m0.4 -30.3h0m0.6 4.9h0m0.1 14.3h0m-0.7 3.9h0m0.8 0h0m-0.7 2.7h0m0 2.6h0m0.1 0.4h0m-0.3 0.9h0m1.1 -27.3h0m0.2 1h0m0 9h0m-0.2 6.2h0m0.6 2.3h0m-0.2 3.4h0m-0.4 0h0m0.3 0.7h0m0.7 -19.3h0m0.2 7.2h0m0.1 3.4h0m-0.2 5.8h0m0.5 0.3h0m-0.1 0.5h0m-0.5 1.4h0m0.6 1.6h0m0.4 -28.9h0m-0.1 13.7h0m0.4 1.5h0m0.3 2.4h0m-0.7 1.9h0m0.3 2.3h0m-0.3 2.6h0m0.5 2.9h0m1.1 -25.6h0m0.2 5.5h0m-0.7 7.3h0m0.7 1.3h0m0.1 0.6h0m-0.3 7.4h0m-0.2 1.3h0m0.2 1h0m0.5 -15.6h0m0.3 3.6h0m-0.3 2.1h0m0.7 2.6h0m0 2.7h0m0.1 1.9h0m-0.4 2.1h0m-0.3 0.6h0m1.6 -22.4h0m-0.4 9.7h0m0.4 2.2h0m0.1 1h0m0 3.2h0m-0.1 1.2h0m-0.6 2.6h0m0.1 2.5h0m-0.1 0.8h0m1.6 -17.1h0m-0.5 3.8h0m0 7.1h0m-0.1 3.9h0m0.8 0.5h0m-0.3 4.1h0m0.3 -16.4h0m1 9.3h0m-0.7 3.2h0m-0.1 1.4h0m0 0h0m0.6 1h0m-0.4 0.7h0m1 -20.1h0m-0.4 16.7h0m0.4 0.8h0m0.3 4.9h0m-0.4 1.2h0m0.2 1.5h0m1.1 -12.8h0m-0.6 3.5h0m0.3 2.9h0m0.4 3.7h0m0.1 1h0m-0.4 2.3h0m1.2 -32.6h0m1 0.3h0m0.4 1.8h0m-0.5 11h0m-0.1 6h0m-0.4 0.9h0m0.7 2.6h0m-0.1 0.5h0m0.9 -10.5h0m-0.4 7.6h0m0.2 5h0m16.6 -7.6h0m-0.1 3.2h0m0 3.1h0m-0.1 0.7h0m1.2 -18.2h0m-0.7 0.5h0m0.4 0.2h0m-0.2 3h0m0.1 2.5h0m-0.2 0.3h0m0.1 0.3h0m0.4 3.1h0m-0.6 0.3h0m0.4 0.1h0m0.4 1.8h0m-0.5 7.4h0m0.5 -24.8h0m0.2 3.4h0m0.7 7.7h0m-0.9 2.5h0m0 1h0m0.9 1.3h0m0.2 -15.8h0m0.1 7.5h0m0.8 1.2h0m-0.8 1.6h0m0 0.6h0m0.7 5.6h0m-0.3 11.5h0m0.4 0.5h0m-0.2 0.7h0m-0.2 5.3h0m0.7 -37.9h0m-0.1 25.1h0m0 2h0m0.2 6.2h0m0.2 1.4h0m-0.1 3.3h0m0 0.9h0m0.7 -26.1h0m0.5 15.5h0m-0.4 1.3h0m-0.1 9.3h0m0.2 0.4h0m1.5 -26.8h0m0 6.7h0m-0.3 5.1h0m-0.2 0.4h0m0.2 0.9h0m0.4 0.2h0m-0.5 9.2h0m-0.4 2.7h0m1 -36.9h0m0.3 4.5h0m-0.1 6.6h0m0 4.3h0m-0.3 6.1h0m0.4 0h0m0.5 3.2h0m-0.9 0.4h0m2 -25.3h0m-0.2 6.3h0m-0.5 4.6h0m0 0.4h0m0.4 0.3h0m-0.1 3.9h0m0.1 4.3h0m-0.6 2.7h0m0.3 2.8h0m1.1 -23.3h0m0.4 6.3h0m-0.5 0.5h0m0.3 2.3h0m-0.1 0.1h0m-0.4 1.7h0m0.2 1.4h0m0.5 1.2h0m-0.8 1.7h0m0 1h0m0.7 0.2h0m-0.7 1.1h0m0.6 1.1h0m-0.3 2.8h0m0.8 -24.3h0m0.2 3.4h0m0.5 2.9h0m-0.4 3h0m0.4 1h0m-0.5 1.2h0m-0.4 0.3h0m0.7 0.2h0m-0.5 3.9h0m0.5 2.8h0m0.7 -5.3h0m0.1 10.4h0m0.4 0.5h0m-0.4 2.3h0m0.4 1.4h0m0.3 -13.9h0m0.3 6h0m0.1 5.1h0m-0.1 0.1h0m0.1 0.2h0m0.2 1.2h0m0.6 -9.1h0m0.1 0.6h0m-0.2 5.2h0m0.7 1.9h0m0 9.2h0m-0.4 1.6h0m0.7 -21.1h0m0.1 6.8h0m-0.4 5h0m0 2.1h0m0.3 0.1h0m-0.3 7.1h0m11.7 -27.2h0m0.8 -1h0m0.1 2.1h0m0.2 0.4h0m-0.3 0.9h0m0.4 1.7h0m-0.1 2h0m-0.7 7.9h0m0 2h0m1.7 -16.5h0m0 1.6h0m0 1.4h0m-0.1 2.5h0m0.2 0h0m-0.4 0.1h0m-0.2 5.4h0m1.6 -16.1h0m-0.5 0.1h0m0.4 1.1h0m-0.4 5.7h0m0.2 2.7h0m0 0h0m0 0.4h0m0.4 -9.6h0m0.3 4.2h0m-0.2 1.6h0m0.9 2.9h0m-0.1 3.7h0m-0.2 3.3h0m1.3 -11.1h0m-0.7 5.1h0m-0.2 0.9h0m0.9 5.9h0m-0.1 2.7h0m0.4 -15.6h0m0.5 0.4h0m-0.2 2.8h0m0.3 2.8h0m-0.6 0.7h0m0.2 1.4h0m-0.3 0.2h0m0.5 3.9h0m-0.1 0.2h0m-0.2 3.3h0m0.9 -22.9h0m0.2 0.8h0m0.2 6.8h0m-0.6 8.6h0m0.6 2.9h0m-0.1 0.8h0m-0.4 0.7h0m0.4 1h0m1.4 -6.9h0m-1 1.4h0m0.4 5.2h0m-0.3 1h0m0.6 2.7h0m1 -9.8h0m0 7.1h0m-0.1 0.3h0m0.4 0.1h0m0.4 -21h0m0.6 0.1h0m-0.9 10.4h0m0.7 0.9h0m-0.5 0.3h0m-0.2 1.9h0m0.1 6.1h0m-0.2 3.3h0m1.2 -16.5h0m11.4 -1h0m0.3 3.3h0m-0.1 0.7h0m-0.1 5.4h0m1.2 -15.2h0m-0.7 1.8h0m0.5 2.4h0m0 2.4h0m0.1 3.9h0m-0.6 1.7h0m0 2.5h0m0.6 1.2h0m-0.1 3.7h0m0.6 -16.4h0m0.2 0.7h0m0 0.7h0m-0.3 4.5h0m0.1 1.9h0m0.6 8.7h0m-0.8 0.9h0m1.6 -9.1h0m0.1 2.1h0m-0.1 0.4h0m-0.5 2.6h0m0.1 5h0m0.1 0.5h0m1 -22.8h0m-0.2 0.1h0m0.4 0.4h0m-0.4 0h0m0.6 0.3h0m0 1.6h0m0 3.2h0m-0.1 1.4h0m0.1 0.6h0m-0.1 1.1h0m-0.6 0h0m0.9 1.7h0m-0.8 1.9h0m0.7 0.2h0m-0.5 2.5h0m0.3 0.8h0m0 0h0m1.2 -16h0m-0.4 2.7h0m0 9.2h0m0.7 -10.3h0m0.5 2.8h0m0.3 5.5h0m-0.7 1.2h0m-0.2 4.3h0m1.5 -11.9h0m-0.5 4.1h0m0.8 5.2h0m-0.1 1.2h0m-0.3 2h0m1.1 -7h0m-0.5 4.9h0m0.9 0.3h0m-0.4 0h0m0.2 0.5h0m-0.4 3.5h0m0.1 0.3h0m-0.2 0.2h0m0.8 -3.9h0m8.5 9h0m0.2 2.4h0m0.5 -19.1h0m0.3 14.9h0m0.2 0.4h0m-0.5 3.5h0m1.2 -14.1h0m-0.2 6.8h0m-0.2 0.3h0m0.4 7.5h0m-0.4 0.3h0m1.9 -25.9h0m-0.6 0.2h0m-0.1 0.6h0m0.7 2.3h0m-0.2 14.7h0m0.1 1.5h0m0.2 -4.9h0m0.5 0.2h0m-0.1 2.4h0m0 0.2h0m-0.3 0.3h0m0.4 1.5h0m0.2 0.8h0m-0.7 0.2h0m0.4 0.4h0m1 -15.1h0m-0.1 10.5h0m-0.3 0.9h0m0.4 2.1h0m0 0.6h0m1 -6.2h0m0.4 3.9h0m-0.2 0.8h0m0.7 -12.1h0m-0.1 1.1h0m-0.1 5.9h0m0.4 1.2h0m0 3.5h0m-0.3 0.4h0m0.8 -5h0m0.2 1.5h0m-0.1 1.4h0" stroke="#0505ee" stroke-width="2.5" stroke-linecap="round" fill="none"/>
<path d="M96.5 150.5h0m0.8 2h0m-0.5 0.6h0m-0.1 13.9h0m0.7 2.2h0m0.7 -13.6h0m-0.2 15.4h0m-0.3 0.3h0m1.2 -32.3h0m-0.3 23.8h0m0.2 4.9h0m0.8 3.5h0m0.8 -27.9h0m-0.2 18.2h0m-0.3 3.5h0m0.5 0.1h0m0.3 -4.6h0m0.2 1.6h0m0 7.5h0m1.4 -9.3h0m-0.4 4.2h0m0.5 0.6h0m-0.8 1.7h0m0.5 4.4h0m-0.2 0.2h0m1.5 -35.7h0m-0.7 7.3h0m1.5 21.1h0m0.5 -11.4h0m0.6 3.5h0m-0.3 4h0m0.4 6.4h0m0.7 2.7h0m0.1 0.5h0m-0.3 1h0m2.1 -11.3h0m-0.2 2.3h0m1.5 2.2h0m2.2 -46.6h0m-0.5 37.3h0m0.5 11.9h0m-0.2 3.9h0m0.4 -39.6h0m0.6 26.3h0m0.1 0.5h0m-0.2 10.2h0m0 2.5h0m0.7 -24.7h0m0.1 22.9h0m1.4 2.4h0m1 -22.8h0m-0.8 14.3h0m0.6 2.3h0m0.3 6.1h0m0.4 -18.1h0m0.5 13.8h0m1.2 -12.2h0m-0.8 15.8h0m3.2 -18h0m2.5 3.8h0m0.3 -4.9h0m0.5 8.6h0m-0.2 12.1h0m0.6 -18.1h0m0.8 12.3h0m0.2 -16.9h0m0 5.8h0m0.8 14.2h0m0.8 -6.4h0m-0.2 0.5h0m1.1 -5.4h0m-0.3 12.8h0m2.4 -18.2h0m1 17.1h0m2.3 -2.6h0m31.6 0.7h0m0.3 4.1h0m0.7 -48.3h0m-0.4 21.8h0m0.6 10.1h0m0.1 11.5h0m-0.3 0.5h0m-0.6 0.9h0m0.5 0.9h0m0.3 0.4h0m0.3 -22.9h0m0.7 4.6h0m0.1 4.9h0m-0.6 6.9h0m0 1.4h0m-0.2 4.1h0m0.4 1.6h0m0.4 0.6h0m0 0.5h0m-0.5 0.7h0m0.8 -19.9h0m0 4.4h0m0.2 3h0m0 3.2h0m2.5 2.4h0m1.1 -3.9h0m-0.7 8.6h0m0.7 2h0m0.1 -5.5h0m0.6 2.5h0m0.4 -18.7h0m0.8 1.4h0m0.1 15.8h0m0.3 2.7h0m0.8 -11.2h0m0.7 6.6h0m1.1 -23.2h0m0.1 20.6h0m0.9 1.5h0m0.6 -29.7h0m0.5 14.1h0m-0.6 18.9h0m0.7 -12.4h0m0.7 6.5h0m-0.2 5.9h0m0 1.6h0m0.1 2.8h0m1.4 -8h0m1.8 -22h0m-0.7 22.5h0m0.4 1.1h0m0.1 3.3h0m0.4 -13.5h0m0.6 9.4h0m-0.2 5.3h0m0.8 -20.4h0m0.1 21.6h0m1 -3.9h0m-0.1 2.1h0m1.2 -2.3h0m1.1 -30.9h0m1.2 -8.2h0m0.1 40.5h0m0.6 -19.4h0m0.4 10.4h0m-0.6 4.1h0m0.1 6.9h0m-0.2 0.8h0m0.9 -9.8h0m1.6 -1.9h0m30.8 -21.1h0m0.9 30h0m0.7 -6.7h0m0.3 5h0m1.5 -15.9h0m-0.2 9.3h0m0.6 -1.2h0m-0.3 9.2h0m1.7 -18.8h0m0.3 5.3h0m-0.9 16.8h0m1.8 -21.2h0m-0.1 3h0m-0.2 9.2h0m0.2 7.7h0m1.1 -17.7h0m-0.8 6.9h0m0.7 6h0m-0.1 1.4h0m1.1 -32h0m-0.7 4.1h0m-0.1 22.1h0m0.1 9h0m0.7 0.1h0m3.2 1.6h0m0.6 -27h0m2.4 19.3h0m1.4 -24.1h0m0 25.3h0m0.4 2.8h0m2.6 -0.6h0m0.7 -5.9h0m0 9.9h0m1.5 -26.6h0m0 10.3h0m0.6 0.8h0m-0.1 3.6h0m0.5 7.1h0m2.4 -8.6h0m-0.8 12.9h0m1.4 -55.6h0m-0.1 44.1h0m0.1 1.3h0m0.7 -11.4h0m0.1 1.6h0m-0.4 17h0m0.1 1.3h0m0.1 0.3h0m0.2 1h0m24.6 -18.9h0m0.4 16h0m0.8 -14.7h0m0.4 1.2h0m0 1.9h0m-0.5 1.9h0m0.1 7.4h0m0.2 3.2h0m-0.3 0.4h0m0.3 2.9h0m1.2 -20.3h0m0 0.6h0m0.3 4.3h0m-0.3 4.2h0m-0.3 4.5h0m0.3 4.8h0m0.8 -20.5h0m0.9 4.5h0m-0.3 13.2h0m0.8 3.4h0m1.1 -5.4h0m-0.5 2.4h0m1.2 -18.7h0m0 0.6h0m-0.4 2.1h0m-0.1 1.1h0m0.3 11.5h0m-0.4 1.5h0m0.6 0.4h0m-0.1 3.2h0m1.3 -14.8h0m-0.1 2.2h0m0 1.1h0m0.1 12.8h0m0.6 -37.5h0m0.1 18.1h0m1.6 -15.9h0m0.6 33.2h0m1 -9.8h0m0.5 10.2h0m0.8 -13.8h0m0.4 6.9h0m0.4 1.7h0m1.9 -19.6h0m0.4 2.3h0m0.6 0.2h0m0 11.3h0m-0.4 11h0m0.3 1.2h0m1.3 1h0m0.1 0.2h0m1.9 -36.3h0m2.1 30.5h0m23.8 -15.6h0m-0.4 19.6h0m0.8 -26.5h0m0.7 4.6h0m-0.2 8.9h0m-0.6 10.5h0m0.8 2.7h0m0.9 -29.7h0m-0.1 15h0m-0.3 13.9h0m-0.1 3h0m1.1 -13.2h0m0.2 0.1h0m0.3 12.4h0m0.4 -23h0m0.2 7.3h0m0.5 0.7h0m-0.1 4.5h0m0.1 0.6h0m-0.1 1.4h0m0.7 -20.2h0m-0.2 2.5h0m-0.4 2.5h0m0.8 11.6h0m-0.2 6.5h0m0 5.1h0m-0.1 1.3h0m0.6 -10.5h0m0.8 2.4h0m-0.4 1.8h0m-0.3 0.4h0m-0.1 1.3h0m0.2 1.5h0m0.1 0.3h0m-0.4 0.3h0m0.2 2.3h0m1.1 -16.8h0m0.8 17.1h0m2.1 -11h0m0.4 7.5h0m2.2 -6h0m1.2 -3.8h0m-0.9 2.4h0m1.2 -19.2h0m1.2 11.9h0m1.1 -1.8h0m0.3 12.8h0m-0.5 7.1h0m1 -32.7h0m-0.2 10.9h0m0.8 10.2h0m-0.1 1.4h0m-0.7 4h0m2.3 -1.2h0m0.3 5.1h0m20.9 -12h0m0.1 12.3h0m2.2 -12h0m-1 6.6h0m1 -4.7h0m2.7 12.2h0m1 -2h0m-0.3 1.4h0m1.6 -7.1h0m-0.9 1.6h0m1.7 2.5h0m1.7 3.5h0m4.4 -22.8h0m-0.6 2.4h0m0.3 15.7h0m2.2 -8.7h0m-0.4 1.9h0m0.6 9.8h0m3.3 -16.1h0m21.5 4.6h0m0.6 13.1h0m1.5 -21h0m0 16.7h0m0.4 -17.6h0m0.2 6.1h0m0 0.4h0m1.1 -24.9h0m-0.6 22.2h0m0.1 2h0m0.3 6.6h0m-0.3 6.6h0m1.6 -16.4h0m-0.2 16.7h0m1 -22.7h0m-0.1 16.7h0m2.4 2.7h0m0.7 -34.5h0m-0.3 27.3h0m20.5 8.6h0m0.9 -16.1h0m1.1 7h0m0 0.3h0m-0.1 4.3h0m-0.1 2.1h0m1.1 4.4h0m0.9 2h0m2.3 -0.5h0m1.2 -34.1h0m-0.5 22.4h0m0.6 1.3h0m1.7 -27.9h0m-0.6 24.1h0m0.7 4.4h0m-0.3 3.2h0m0.9 -3.4h0m-0.2 6.1h0m0.4 0.4h0m1.7 2.4h0m0.8 -26h0m0.2 7.1h0m13.2 20.1h0m1.2 -9.6h0m0.1 1.7h0m1 -18.6h0m-0.8 14.3h0m0.7 2.7h0m-0.7 1.1h0m0.8 4.6h0m-0.5 2.8h0m1.4 -38.5h0m-0.3 22.2h0m0.9 -4h0m0.1 6.3h0m0.5 6.5h0m-0.8 7h0m2.4 -1.1h0m2.5 -17.2h0m0.8 0.8h0m-0.2 18.6h0m12.2 -24.3h0m-0.4 15h0m0.4 0.6h0m0.2 -10.3h0m0.7 8.5h0m0.4 0h0m1.6 -22.7h0m0 22.4h0m-0.1 0.4h0m0.1 3.3h0m-0.3 1.7h0m0.1 3.8h0m1.3 -12.9h0m0 1.5h0m-0.9 5.2h0m0.6 2.3h0m-0.5 5.6h0m0.4 1.4h0m1.3 -20.2h0m-0.4 2.6h0m-0.2 5.3h0m1.8 -19.5h0m-0.6 14.7h0m0.1 11.5h0m0.5 2.1h0m0.6 -18.9h0m0.3 9.1h0m-0.3 0.8h0m-0.5 0h0m0.3 4.2h0m-0.1 0.6h0m0.6 0.8h0m-0.5 0.2h0m0.1 2.1h0m0.5 0.1h0m0.9 -27.2h0m-0.4 12h0m-0.4 15.8h0m10.4 -22.2h0m0 21.8h0m1 -12.5h0m0.6 4.5h0m1.7 -27h0m-0.8 25.9h0m3 -4.5h0m0.1 13.5h0m0.1 2.3h0m1.1 -17.3h0m-0.2 0.9h0m0.3 17.9h0" stroke="#1414cc" stroke-width="2.5" stroke-linecap="round" fill="none"/>
<path d="M57.1 211.2h0m0.3 9.3h0m0.9 -22.2h0m0.2 -0.1h0m1 4.1h0m0.9 -3.1h0m-0.4 5.1h0m-0.1 2.4h0m0.7 8.5h0m0.2 17.6h0m1.2 -31.2h0m0.3 0.3h0m-0.2 2.6h0m-0.5 5.1h0m1.1 -6.9h0m0.2 20.3h0m0.4 0.5h0m1 -22.8h0m0 4.5h0m0.1 1.5h0m-0.5 4.6h0m0.3 1.2h0m-0.4 0.7h0m0.9 -16h0m-0.1 13.1h0m0.2 3.6h0m0.3 7.2h0m-0.5 3h0m0.4 7.1h0m1.3 -26.8h0m-0.8 5h0m0.3 2.5h0m1.4 -7h0m1 8h0m-0.6 2.5h0m0 0.3h0m1.1 -10.5h0m-0.1 4.2h0m-0.1 4.6h0m0.1 4.8h0m0.9 0.2h0m1.9 -18.7h0m0.3 9.2h0m-0.2 2.5h0m0.5 6.6h0m1.1 -10.3h0m-0.6 1.1h0m0.1 11.7h0m1.5 -15.7h0m0.4 2.6h0m0 7.2h0m0.5 -6.7h0m0.8 3h0m-0.1 7.4h0m5.5 -13.7h0m-0.2 4.8h0m1.3 -7.2h0m0.4 -1.6h0m0.3 0.2h0m0.3 1.7h0m2 1.9h0m-0.5 0.6h0m0.4 11.3h0m1.3 -7.1h0m-0.4 2.3h0m0.4 0.3h0m0.7 0.9h0m1.7 -11.5h0m1.4 -1.4h0m-0.8 11.8h0m0.8 1.5h0m-0.4 7.4h0m1.4 -8.7h0m0 10.8h0m1.2 -20.4h0m0.3 4h0m1.3 -4h0m0.2 1.5h0m-0.6 8.6h0m0.8 1.3h0m2.8 7.4h0m4.4 -13.2h0m0.5 1.4h0m1.3 -1.1h0m-0.5 12.9h0m-0.3 4.4h0m1.6 -18h0m-0.3 8.9h0m-0.2 2.8h0m1.9 -15.4h0m0.3 3.2h0m0.9 3.2h0m1.3 -2.6h0m0.9 8.6h0m-0.1 2.4h0m0.3 19.9h0m0.9 -29.3h0m0.1 6.2h0m2 -7.9h0m0.6 3.6h0m0 9.2h0m0.9 -11.9h0m2.5 8h0m0.5 4.8h0m1.3 -12.9h0m0 3.2h0m1.9 -2.4h0m0.3 4.8h0m-0.3 14.3h0m1.4 -19.2h0m-0.1 8.5h0m-0.3 5.9h0m2.3 -16.8h0m1.1 -2.6h0m0.9 0.2h0m-0.7 2.8h0m0.4 8.4h0m0.5 4.7h0m1.8 7.6h0m-0.2 3.1h0m0.8 -21.9h0m0.9 -1.5h0m0.9 -2.8h0m-0.2 4.2h0m2.6 -0.2h0m0 11.9h0m2.3 -2.2h0m-0.7 19h0m2 -15.1h0m1.3 -3h0m-0.3 0h0m0.8 8h0m3.3 -7.3h0m1.9 -0.2h0m0.5 2.2h0m-0.4 3.9h0m-0.2 2.2h0m1.5 -2.2h0m3.2 18.8h0m0.8 -15.5h0m0.4 0.2h0m1 7.4h0m2.8 -13.8h0m-0.3 10.6h0m3.7 -11.2h0m1 3.8h0m4.6 -2.3h0m3.3 -14.2h0m3.5 -0.8h0m-0.1 2.2h0m1.3 -3h0m0.7 1h0m0 7.1h0m2.3 -0.8h0m0.3 -5.2h0m0.6 9h0m1.1 -7h0m1.6 12.2h0m4.4 -3.2h0m3.3 -9.5h0m1.6 7.8h0m0.3 -10.7h0m1.5 0.6h0m0.5 6.3h0m2.8 6.2h0m0.6 -10.9h0m-0.3 2.2h0m1.2 4.2h0m1.7 -4.1h0m3.3 -1.9h0m-0.3 1.6h0m0.6 2.2h0m0.6 -6.5h0m0.1 7.2h0m2.6 -5h0m-0.6 9.2h0m1.2 -0.2h0m2.7 -12.7h0m0.1 2.6h0m0.5 5.8h0m1.1 -2.9h0m0.3 -6.9h0m5.2 6.1h0m5.1 2.4h0m3.2 12.2h0m2.2 -3.6h0m3.8 -6.2h0m1.8 3.4h0m0.8 -4.9h0m0.4 5.3h0m4.8 -3h0m0.4 5.4h0m-0.3 3.4h0m1.3 -3.1h0m3.8 5.1h0m1.2 -8.1h0m-0.1 6h0m1.3 -7h0m0.2 0.9h0m0.9 -4.6h0m0.7 3.2h0m0.8 -3.7h0m0 2.1h0m1.9 -1h0m0.7 7.1h0m2.7 -23.4h0m-0.4 2.8h0m-0.2 0.4h0m2.2 -7.4h0m-0.3 1.7h0m0.5 0.5h0m-0.5 12h0m1.2 -7.6h0m-0.5 5h0m3 -10.9h0m1.4 -2.5h0m0.3 10h0m0 0.3h0m1.8 3.3h0m0.5 -1.1h0m1.8 2.4h0m0.5 -8.5h0m1 0.4h0m0.2 1.4h0m-0.3 5.4h0m1.4 -4.5h0m0 2.7h0m0.5 1.4h0m2.5 -2.2h0m0.1 3.9h0m0.9 -0.8h0m2.2 -8.4h0m4.2 1.8h0m0.4 11h0m3.4 16.4h0m0.5 -31.8h0m0.5 11.1h0m0.3 1.5h0m0.7 12h0m0.7 -21.5h0m0.4 1.7h0m-0.1 3.6h0m-0.4 4.4h0m0 4.1h0m0.1 2.7h0m0.5 3.8h0m0 -16.4h0m0.5 2.6h0m0.4 11.3h0m-0.4 6.9h0m0.1 14.5h0m1.4 -38.2h0m-0.4 12.9h0m1.2 -4.5h0m0 9.8h0m0.7 -11.5h0m-0.4 4.5h0m0 9h0m1.7 -20.1h0m-0.5 3.7h0m0.1 3h0m0.5 2.1h0m-0.5 1.4h0m-0.4 11.2h0m1.4 -8.8h0m0.8 -9.2h0m0.3 6.9h0m0.4 6.6h0m0.5 -3.8h0m0 3.4h0m1.1 -12.6h0m-0.3 10.4h0m2.8 -7.4h0m5.8 -3.9h0m0.6 -0.2h0m0.2 7.9h0m0.8 -8h0m1 9.3h0m-0.2 3.3h0m0.4 0.3h0m11.6 -9.1h0m0 14.7h0m2.9 -17.6h0m1 9.8h0m1.7 -9.5h0m0.6 5h0m1.5 -4.3h0m-0.4 10.6h0m0.3 3.8h0m3.7 -9.3h0m0.9 -12.2h0m0.1 3h0m0.5 7.3h0m1.4 -2.5h0m1.4 -0.9h0m1 -8.2h0m0.9 14.6h0m0.9 2.5h0m0.6 -17h0m-0.1 8.3h0m1.3 9.9h0m1 -9.8h0m0.4 2.7h0m1.2 -1.8h0m-0.7 2.7h0m2.5 -4.1h0m-0.5 1.2h0m1.8 -12.9h0m0.8 11.4h0m0.2 -6h0m0.6 1.4h0m0.3 3.6h0m-0.4 2.5h0m2.2 -3.6h0m2.4 10h0m5.5 -22h0m-0.1 16h0m1 -10.3h0m0.6 -6.2h0m0.5 17.3h0m-0.5 1.3h0m0 0.9h0m-0.1 9.9h0m0.9 -28.5h0m0 14.3h0m1.2 -15.8h0m0.5 14.1h0m1 -14.3h0m1.5 4.4h0m0.2 6.5h0m2.3 6.3h0m0.2 5.7h0m-0.1 5.6h0m0.9 -6.6h0m3.1 -10.6h0m-0.7 5.3h0m0.8 2.1h0m-0.4 5h0m1.5 -5.6h0m0.4 -6h0m0.3 11.3h0m-0.3 1.1h0m1.5 -8.7h0m0.4 -3.6h0m0.4 5.1h0m-0.7 6.7h0m1.1 -14.7h0m0.4 14.9h0m2 -13.8h0m0 8.3h0m1 -5.4h0m1.5 6.4h0m1.4 9.5h0m0.9 -11h0m0.5 0.4h0m1 -5h0m-0.7 4.4h0m1.4 -6.6h0m6.6 20.3h0m0.6 2.5h0m0.8 -2.1h0m0.2 0.5h0m-0.6 3.9h0m1 -5.1h0m-0.1 2.6h0m1.4 12.2h0m1 -8.2h0m1.3 -2.1h0m0.6 -4.6h0m2.9 14.8h0m3.5 -17.9h0m0.4 3.6h0m0.3 6.4h0m3.4 -6h0m4.7 -9.2h0m1.9 -12.6h0m0 1.6h0m0.5 8.4h0m0.7 -14.2h0m9.2 30.1h0m0.1 3.3h0m0.2 -8.7h0m0.3 19.8h0m2.9 -17.4h0m-0.1 0.6h0m0.7 7.5h0m1.9 -8.4h0m0.4 6.1h0m3.1 -1.5h0m1.2 -24h0m1.3 15.9h0m0.6 -16.9h0m0.1 0h0m-0.2 15.3h0m1 -11.4h0m1.9 18.1h0m0.7 3.5h0m1 -12.2h0m0.6 -11h0m1.1 -1.5h0m-0.3 5.8h0m0.4 3.1h0m2 -10.9h0m2.3 1.9h0m1.3 0h0m-0.1 1.8h0m2.8 14.8h0m0.5 4.4h0m3.3 -10.5h0m0.5 4.4h0m3.3 -6.1h0m-0.1 1h0m0.5 0.3h0m0.5 9.4h0m0.2 3.2h0m1.4 -24.5h0m2 -0.9h0m-0.1 0.9h0m0.4 1.5h0m1 -0.1h0m0.9 -0.7h0m0.3 0.6h0m-0.2 3.4h0m3 -9.2h0m1.1 20.9h0m0.6 -9.7h0m0.2 0.6h0m3.9 5h0m0.8 8.4h0m2.8 7.1h0m9.4 -28.7h0m1.7 -5.4h0m-0.3 16.8h0m0.9 -17.9h0m0.4 9.2h0m1.1 -2.8h0m1.9 -1.4h0m2.9 12.9h0m1 3.3h0m0.3 -24.6h0m0.9 18.8h0m-0.8 21.3h0m1.1 -24.9h0m0.1 1.3h0m-0.1 1.5h0m0.9 13.6h0m1.5 -21.3h0m-0.2 5.4h0m2.6 4.9h0m2.4 -10.4h0m-0.2 3h0" stroke="#fff" stroke-width="1.9" stroke-linecap="round" fill="none"/>
<path d="M59 20.7h0m0 1.6h0m0 28.5h0m0 62.7h0m0 16.5h0m0 5h0m0 7h0m2 1h0m5 -2h0m8 -5h0m1.6 -5h0m6.4 14h0m1 -18h0m3 -15.4h0m0 7.4h0m0 7h0m0 2.3h0m0 2.3h0m0 5.4h0m0 2.3h0m0 2.3h0m0 2.3h0m0 2.3h0m0 2.3h0m0 2.3h0m5.6 -55.4h0m0 17.2h0m1.4 16.4h0m0 11h0m41 -34h0m0 3h0m0.5 8h0m0 6h0m0 10h0m0 6h0m3.5 -12h0m0 14h0m0 3h0m1 -7h0m1 -19h0m0 2.5h0m0 2.5h0m0 2.4h0m0 5.6h0m1 12h0m1.4 -33h0m10.6 38h0m0.6 -26h0m3.4 26h0m1 -18h0m0 2.3h0m3 14.7h0m41 -18h0m0 14h0m13.6 -32h0m0.4 9h0m0 9h0m0 7h0m0 13h0m33 -98.1h0m3 55.1h0m0 5h0m1.4 34.6h0m-0.2 5.1h0m0.8 -36.7h0m-0.3 36.1h0m1.3 -27.1h0m0 2.3h0m0 2.3h0m0 7.4h0m0 2.3h0m0 2.3h0m1 -32.1h0m-0.5 34.8h0m0.3 2.8h0m7.2 -18.1h0m1 8h0m2 6h0m1.2 7.6h0m-0.1 0.1h0m0.9 -10.7h0m-0.3 9.5h0m2.3 -57.5h0m-0.4 22h0m0.4 13h0m1.2 24.6h0m22.8 -1.6h0m2 -26h0m0 20h0m10 -20h0m0 2.5h0m0 2.5h0m0 11h0m0 3h0m6 -4h0m2 1h0m1 10h0m29 -133.8h0m0 68.8h0m0 2.2h0m0 2.2h0m0.4 10.6h0m-0.6 4h0m-0.2 2h0m0.2 1.3h0m-0.2 1.2h0m0.2 2.1h0m-0.2 0.4h0m0 2.5h0m0.2 0.4h0m-0.2 2.1h0m0.2 1.2h0m0 3.3h0m0 3.3h0m0 3.3h0m0 3.3h0m0 3.3h0m0 3.3h0m0 3.3h0m0 3.3h0m0 3.3h0m0 3.3h0m7.2 -49.2h0m2 -2h0m0.3 6h0m0 3h0m0 3h0m-0.3 2h0m0.3 1h0m0 3h0m0 3h0m0 3h0m0 3h0m0 3h0m-0.3 6h0m35.6 -14h0m25.4 -4h0m0 16h0m3 -7h0m0 2.5h0m9 -4.5h0m0 13h0m0 2.5h0m0 2.5h0m17 10h0m1 -13h0m7 -6h0m19.8 12h0m0 2.4h0m0 2.4h0m2.2 -9.8h0m0 0.3h0m12.4 -0.8h0m0 0h0m0 2.5h0m0 0.6h0m0 1.4h0m0.4 -71.4h0m0 18.4h0" stroke="#164216" stroke-width="2.7" stroke-linecap="round" fill="none"/>
<path d="M96 74h0m0 2.2h0m0 2.2h0m0 2.1h0m0 4.5h0m0 2.2h0m0 15.8h0m0 3h0m0 3h0m0 3h0m0 8h0m0 18h0m0 8h0m0.4 3.4h0m0.8 -4.8h0m0.4 -1.2h0m0.2 2h0m0.2 3.7h0m6 -0.1h0m13 -43h0m0 3h0m0 3h0m0 9h0m0 2.3h0m0 2.3h0m2 17.4h0m9 -17h0m0 2.5h0m0 2.5h0m0 2.5h0m0 2.5h0m0.6 -28.4h0m38.4 13.4h0m0.6 14h0m4.4 12h0m1.6 -19.4h0m5.4 9h0m6 -33.1h0m0 2h0m0 24.5h0m6.4 -12h0m-0.4 22h0m0 3h0m0 4h0m34 -20h0m0 8h0m0 2.5h0m9.4 9.1h0m0.1 2.8h0m0.5 -22.4h0m0 12h0m0 10.6h0m0.6 -34.6h0m0 2.2h0m0 2.2h0m8.4 10.6h0m0 18h0m1 -13h0m0 2.2h0m0 2.2h0m28 0.6h0m16 -8h0m31 0h0m-0.4 17h0m9.4 -47h0m0 7h0m1 -6h0m0 5h0m0.5 6h0m0 3.2h0m0 3.2h0m0 3.2h0m0 3.2h0m0 3.2h0m0.5 -26h0m0 42h0m1 -35h0m1 -5h0m1 -11h0m0 9h0m0 6h0m-0.5 8h0m0 3.5h0m0 3.5h0m0 3.5h0m0 3.5h0m1.5 -1h0m0 2.8h0m0 2.8h0m0 2.8h0m0 2.8h0m0 2.8h0m1 -39h0m0 6h0m30.4 -3h0m6.6 31h0m0 2.5h0m0.6 -14.5h0m2.8 -56.6h0m26.6 56.6h0m0.3 19.9h0m0.3 -10.9h0m1.7 9.6h0m0.4 -1.1h0m1.3 -5.5h0m23 2h0m25 -17h0m1.5 -64.6h0m0 1.8h0m0 2h0m0 3.1h0m0 2.3h0m0 3.1h0m0 4.6h0m2 70h0m0.5 -7.7h0m0.2 0.8h0m15.4 -55.9h0m0 2h0m0 8.5h0m2.8 27h0m0 2.2h0m0 2.3h0m-0.4 13.1h0m0 0h0m0 3.1h0m0 6.9h0m4.5 -28.6h0m0.8 21.7h0m-0.8 6.3h0m1.3 -56h0m0 15h0m0 2.2h0m0 17.1h0m10.2 -3.8h0m0.8 -7h0m0 3.5h0m0 2.5h0m0 2.5h0m0 24.6h0m2.2 -12.3h0m0 0.7h0m0 1.6h0m0 2.3h0" stroke="#1a1a9c" stroke-width="2.7" stroke-linecap="round" fill="none"/>
<rect x="40.5" y="2" width="475" height="256" fill="none" stroke="#333" stroke-width="1.1"/>
<path d="M34.5 251.2H40M34.5 194.2H40M34.5 137.2H40M34.5 80.2H40M34.5 23.2H40M76.2 258V262.5M114.2 258V262.5M148.3 258V262.5M178 258V262.5M206.4 258V262.5M233.5 258V262.5M258.8 258V262.5M282.4 258V262.5M304.8 258V262.5M326.1 258V262.5M346.5 258V262.5M367 258V262.5M385.8 258V262.5M402.7 258V262.5M418.9 258V262.5M433.8 258V262.5M446.5 258V262.5M457.6 258V262.5M468.4 258V262.5M478.4 258V262.5M486.9 258V262.5M495 258V262.5M510.3 258V262.5" stroke="#333" stroke-width="1" fill="none"/>
<text transform="translate(28.6 251.2) rotate(-90)" text-anchor="middle" font-size="11.5" fill="#111">2</text>
<text transform="translate(28.6 194.2) rotate(-90)" text-anchor="middle" font-size="11.5" fill="#111">3</text>
<text transform="translate(28.6 137.2) rotate(-90)" text-anchor="middle" font-size="11.5" fill="#111">4</text>
<text transform="translate(28.6 80.2) rotate(-90)" text-anchor="middle" font-size="11.5" fill="#111">5</text>
<text transform="translate(28.6 23.2) rotate(-90)" text-anchor="middle" font-size="11.5" fill="#111">6</text>
<text x="76.2" y="274.5" text-anchor="middle" font-size="11.5" fill="#111">1</text>
<text x="114.2" y="274.5" text-anchor="middle" font-size="11.5" fill="#111">2</text>
<text x="148.3" y="274.5" text-anchor="middle" font-size="11.5" fill="#111">3</text>
<text x="178" y="274.5" text-anchor="middle" font-size="11.5" fill="#111">4</text>
<text x="206.4" y="274.5" text-anchor="middle" font-size="11.5" fill="#111">5</text>
<text x="233.5" y="274.5" text-anchor="middle" font-size="11.5" fill="#111">6</text>
<text x="258.8" y="274.5" text-anchor="middle" font-size="11.5" fill="#111">7</text>
<text x="282.4" y="274.5" text-anchor="middle" font-size="11.5" fill="#111">8</text>
<text x="304.8" y="274.5" text-anchor="middle" font-size="11.5" fill="#111">9</text>
<text x="326.1" y="274.5" text-anchor="middle" font-size="11.5" fill="#111">10</text>
<text x="367" y="274.5" text-anchor="middle" font-size="11.5" fill="#111">12</text>
<text x="402.7" y="274.5" text-anchor="middle" font-size="11.5" fill="#111">14</text>
<text x="433.8" y="274.5" text-anchor="middle" font-size="11.5" fill="#111">16</text>
<text x="457.6" y="274.5" text-anchor="middle" font-size="11.5" fill="#111">18</text>
<text x="486.9" y="274.5" text-anchor="middle" font-size="11.5" fill="#111">21</text>
<text x="510.3" y="274.5" text-anchor="middle" font-size="11.5" fill="#111">X</text>
<text x="280" y="294.8" text-anchor="middle" font-weight="bold" font-size="15" fill="#111">Coordinate</text>
<text transform="translate(16 141.05) rotate(-90)" text-anchor="middle" font-weight="bold" font-size="15" fill="#111">-log10(p)</text>
<text x="80.3" y="48.6" font-weight="bold" font-style="italic" font-size="10.3" fill="#111">ENO1, RERE</text>
<path d="M90.6 36.0L67.5 27.5" stroke="#111" stroke-width="1.8" fill="none"/>
<path d="M66.3 27.1L73.8 26.3L71.2 31.9z" stroke="#111" stroke-width="1.2" stroke-linejoin="round" fill="#111"/>
<text x="269.2" y="76.4" font-weight="bold" font-style="italic" font-size="10.3" fill="#111">DGKB</text>
<path d="M279.9 63.9L256.8 55.0" stroke="#111" stroke-width="1.8" fill="none"/>
<path d="M255.6 54.6L262.7 53.6L260.1 59.6z" stroke="#111" stroke-width="1.2" stroke-linejoin="round" fill="#111"/>
<text x="365.8" y="39.3" font-weight="bold" font-style="italic" font-size="10.3" fill="#111">OR4C12</text>
<path d="M375.2 27.0L352.2 17.9" stroke="#111" stroke-width="1.8" fill="none"/>
<path d="M351.0 17.5L358.1 17.1L355.8 22.3z" stroke="#111" stroke-width="1.2" stroke-linejoin="round" fill="#111"/>
<text x="460.2" y="46.8" font-weight="bold" font-style="italic" font-size="10.3" fill="#111">DSC3</text>
<path d="M470.3 50.2L459.9 62.5" stroke="#111" stroke-width="1.8" fill="none"/>
<path d="M459.1 63.3L460.5 57.9L465.9 60.6z" stroke="#111" stroke-width="1.2" stroke-linejoin="round" fill="#111"/>
</svg></body></html>
